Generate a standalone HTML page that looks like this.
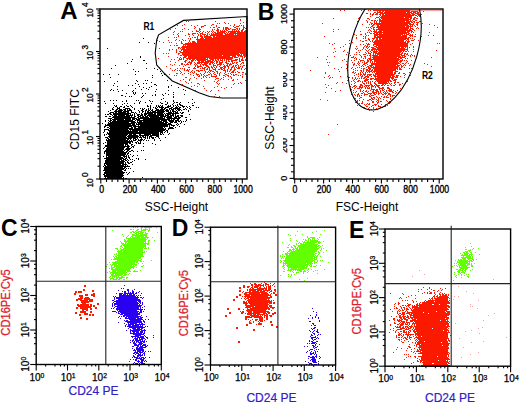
<!DOCTYPE html><html><head><meta charset="utf-8"><style>html,body{margin:0;padding:0;background:#fff}svg{display:block}text{font-family:"Liberation Sans",sans-serif}</style></head><body><svg width="520" height="403" viewBox="0 0 520 403">
<path d="M143 38.5h1M139 42.5h1M148 42.5h1M154 43.5h1M107 48.5h1M246 54.5h1M140 56.5h1M140 57.5h1M132 59.5h1M143 60.5h2M131 61.5h1M127 63.5h1M146 63.5h1M115 65.5h1M111 68.5h1M146 68.5h1M154 68.5h1M133 69.5h1M157 69.5h1M135 71.5h1M138 71.5h1M160 71.5h1M161 73.5h1M103 74.5h1M109 74.5h1M118 74.5h1M135 74.5h1M164 74.5h1M152 75.5h1M162 75.5h1M110 77.5h1M152 77.5h1M136 80.5h1M145 80.5h1M147 80.5h1M167 80.5h1M104 81.5h1M117 81.5h1M137 81.5h1M151 82.5h1M114 83.5h1M135 83.5h1M143 83.5h1M146 83.5h1M177 83.5h1M138 84.5h1M154 84.5h2M113 85.5h1M128 85.5h1M132 85.5h1M156 85.5h1M171 85.5h1M117 86.5h1M139 86.5h1M151 86.5h1M168 86.5h1M143 87.5h1M149 87.5h1M168 87.5h1M178 87.5h1M135 88.5h1M146 88.5h1M111 89.5h1M117 89.5h1M141 89.5h1M148 89.5h1M156 89.5h1M183 89.5h1M110 90.5h1M113 90.5h1M122 90.5h1M133 90.5h1M168 90.5h1M185 90.5h1M118 91.5h1M132 91.5h1M155 91.5h1M133 92.5h1M135 92.5h1M173 92.5h1M126 93.5h1M133 93.5h1M135 93.5h1M142 93.5h1M145 93.5h1M165 93.5h1M134 94.5h1M155 94.5h1M162 94.5h1M168 94.5h1M173 94.5h1M184 94.5h1M121 95.5h2M143 95.5h1M152 95.5h1M155 95.5h1M163 95.5h1M125 96.5h1M129 96.5h1M131 96.5h1M142 96.5h1M173 96.5h1M141 97.5h1M173 97.5h1M163 98.5h1M161 99.5h1M192 99.5h1M110 100.5h1M113 100.5h1M116 100.5h1M126 100.5h1M136 100.5h1M138 100.5h1M149 100.5h1M173 100.5h1M104 101.5h1M122 101.5h1M126 101.5h1M140 101.5h1M150 101.5h1M152 101.5h1M165 101.5h1M173 101.5h1M139 102.5h1M145 102.5h1M160 102.5h1M167 102.5h1M174 102.5h1M176 102.5h2M180 102.5h1M188 102.5h1M194 102.5h1M105 103.5h1M113 103.5h1M124 103.5h1M127 103.5h1M134 103.5h1M139 103.5h1M151 103.5h1M161 103.5h2M167 103.5h1M173 103.5h1M179 103.5h1M192 103.5h1M122 104.5h1M165 104.5h2M172 104.5h1M177 104.5h1M179 104.5h2M114 105.5h1M116 105.5h1M126 105.5h1M130 105.5h1M147 105.5h1M150 105.5h1M156 105.5h1M158 105.5h1M160 105.5h1M162 105.5h1M168 105.5h1M170 105.5h1M173 105.5h1M175 105.5h1M177 105.5h1M180 105.5h3M192 105.5h2M115 106.5h2M120 106.5h2M124 106.5h1M127 106.5h2M131 106.5h1M147 106.5h2M150 106.5h1M156 106.5h1M158 106.5h2M161 106.5h2M167 106.5h4M173 106.5h1M176 106.5h1M178 106.5h1M182 106.5h3M186 106.5h1M189 106.5h1M113 107.5h1M117 107.5h1M119 107.5h1M123 107.5h2M132 107.5h1M150 107.5h1M153 107.5h1M155 107.5h1M157 107.5h1M159 107.5h5M165 107.5h4M171 107.5h2M175 107.5h3M179 107.5h2M183 107.5h1M187 107.5h1M190 107.5h1M196 107.5h1M198 107.5h1M112 108.5h1M117 108.5h3M125 108.5h5M134 108.5h1M140 108.5h1M142 108.5h1M144 108.5h1M148 108.5h1M150 108.5h1M155 108.5h2M161 108.5h2M164 108.5h2M169 108.5h3M173 108.5h7M185 108.5h1M189 108.5h1M112 109.5h2M116 109.5h2M119 109.5h3M123 109.5h3M127 109.5h1M129 109.5h2M134 109.5h1M142 109.5h2M146 109.5h1M148 109.5h1M150 109.5h1M152 109.5h1M156 109.5h3M160 109.5h5M166 109.5h2M169 109.5h1M171 109.5h3M175 109.5h1M177 109.5h4M183 109.5h2M186 109.5h1M190 109.5h1M110 110.5h1M115 110.5h2M118 110.5h5M124 110.5h2M127 110.5h5M138 110.5h1M141 110.5h2M145 110.5h2M148 110.5h2M151 110.5h2M155 110.5h9M165 110.5h4M170 110.5h1M172 110.5h2M176 110.5h1M178 110.5h2M181 110.5h1M188 110.5h1M108 111.5h1M114 111.5h8M123 111.5h6M131 111.5h1M139 111.5h1M142 111.5h2M145 111.5h1M147 111.5h2M150 111.5h1M152 111.5h4M157 111.5h8M166 111.5h3M170 111.5h1M172 111.5h4M177 111.5h1M188 111.5h1M110 112.5h4M115 112.5h2M118 112.5h8M127 112.5h2M131 112.5h3M135 112.5h1M139 112.5h1M142 112.5h1M145 112.5h1M147 112.5h17M168 112.5h4M173 112.5h1M175 112.5h3M180 112.5h1M182 112.5h2M109 113.5h2M113 113.5h18M134 113.5h1M136 113.5h1M141 113.5h1M144 113.5h9M154 113.5h2M157 113.5h6M164 113.5h1M166 113.5h13M181 113.5h2M105 114.5h1M107 114.5h2M110 114.5h2M113 114.5h16M130 114.5h1M132 114.5h1M134 114.5h1M137 114.5h3M141 114.5h2M144 114.5h3M148 114.5h8M157 114.5h7M165 114.5h1M167 114.5h4M172 114.5h2M175 114.5h1M189 114.5h1M112 115.5h1M114 115.5h3M118 115.5h7M126 115.5h7M134 115.5h1M137 115.5h2M140 115.5h3M144 115.5h2M147 115.5h17M165 115.5h4M170 115.5h4M175 115.5h1M177 115.5h2M180 115.5h3M105 116.5h2M109 116.5h2M113 116.5h17M131 116.5h1M134 116.5h2M138 116.5h3M142 116.5h2M145 116.5h3M149 116.5h10M160 116.5h6M167 116.5h5M173 116.5h1M175 116.5h4M181 116.5h2M112 117.5h23M137 117.5h2M140 117.5h9M150 117.5h13M164 117.5h1M166 117.5h6M174 117.5h3M178 117.5h3M185 117.5h2M108 118.5h4M114 118.5h17M132 118.5h5M138 118.5h27M167 118.5h13M110 119.5h1M112 119.5h12M125 119.5h6M132 119.5h3M136 119.5h4M143 119.5h27M171 119.5h1M173 119.5h2M177 119.5h2M186 119.5h1M190 119.5h1M105 120.5h1M108 120.5h1M110 120.5h2M113 120.5h3M117 120.5h16M135 120.5h1M137 120.5h23M161 120.5h6M168 120.5h6M175 120.5h4M180 120.5h1M186 120.5h1M105 121.5h1M109 121.5h2M112 121.5h23M137 121.5h1M139 121.5h3M143 121.5h19M163 121.5h4M169 121.5h5M175 121.5h2M178 121.5h2M181 121.5h1M183 121.5h1M185 121.5h1M108 122.5h1M110 122.5h19M131 122.5h5M137 122.5h27M165 122.5h3M170 122.5h3M174 122.5h3M181 122.5h1M102 123.5h1M108 123.5h27M136 123.5h1M138 123.5h29M168 123.5h3M177 123.5h1M180 123.5h1M105 124.5h1M107 124.5h24M132 124.5h3M136 124.5h36M176 124.5h1M178 124.5h1M184 124.5h1M105 125.5h31M138 125.5h1M140 125.5h28M169 125.5h1M171 125.5h4M177 125.5h1M104 126.5h2M109 126.5h23M133 126.5h35M169 126.5h1M173 126.5h1M179 126.5h1M104 127.5h1M107 127.5h2M110 127.5h19M131 127.5h2M134 127.5h2M138 127.5h25M164 127.5h1M169 127.5h4M175 127.5h1M109 128.5h24M134 128.5h30M165 128.5h1M168 128.5h6M104 129.5h5M110 129.5h18M129 129.5h37M168 129.5h1M104 130.5h1M108 130.5h21M130 130.5h1M132 130.5h33M166 130.5h2M104 131.5h1M109 131.5h29M139 131.5h24M165 131.5h1M167 131.5h1M103 132.5h1M107 132.5h1M109 132.5h50M160 132.5h3M164 132.5h1M167 132.5h1M107 133.5h52M160 133.5h1M162 133.5h1M169 133.5h1M104 134.5h1M106 134.5h1M108 134.5h20M129 134.5h3M133 134.5h3M139 134.5h2M144 134.5h7M152 134.5h7M160 134.5h2M163 134.5h1M168 134.5h1M104 135.5h1M109 135.5h18M128 135.5h10M139 135.5h10M150 135.5h9M108 136.5h18M127 136.5h12M140 136.5h1M142 136.5h2M145 136.5h1M147 136.5h1M149 136.5h3M156 136.5h3M105 137.5h3M109 137.5h18M128 137.5h10M139 137.5h3M143 137.5h3M147 137.5h1M149 137.5h1M151 137.5h3M155 137.5h1M158 137.5h1M165 137.5h1M107 138.5h2M110 138.5h22M133 138.5h3M137 138.5h1M141 138.5h1M145 138.5h1M147 138.5h1M149 138.5h1M152 138.5h2M159 138.5h1M106 139.5h1M108 139.5h18M127 139.5h2M130 139.5h1M133 139.5h1M135 139.5h2M138 139.5h1M140 139.5h3M144 139.5h1M154 139.5h1M106 140.5h22M129 140.5h1M131 140.5h1M133 140.5h3M138 140.5h4M143 140.5h1M146 140.5h1M148 140.5h1M154 140.5h1M160 140.5h1M107 141.5h26M137 141.5h1M140 141.5h1M105 142.5h1M107 142.5h24M132 142.5h1M135 142.5h2M138 142.5h1M140 142.5h1M103 143.5h1M107 143.5h21M129 143.5h2M136 143.5h1M138 143.5h3M143 143.5h1M152 143.5h1M107 144.5h17M125 144.5h3M131 144.5h2M155 144.5h1M105 145.5h19M125 145.5h1M127 145.5h2M131 145.5h1M134 145.5h1M105 146.5h25M132 146.5h2M143 146.5h1M104 147.5h1M107 147.5h18M127 147.5h2M131 147.5h1M133 147.5h1M103 148.5h1M106 148.5h18M126 148.5h5M106 149.5h18M125 149.5h5M105 150.5h18M124 150.5h1M127 150.5h2M131 150.5h2M141 150.5h1M143 150.5h1M104 151.5h20M126 151.5h2M129 151.5h2M133 151.5h1M137 151.5h1M104 152.5h1M106 152.5h21M128 152.5h1M104 153.5h1M106 153.5h20M127 153.5h2M106 154.5h20M127 154.5h1M130 154.5h1M106 155.5h19M126 155.5h1M128 155.5h1M133 155.5h1M137 155.5h1M103 156.5h1M106 156.5h1M108 156.5h13M123 156.5h4M128 156.5h1M132 156.5h1M106 157.5h17M124 157.5h1M126 157.5h1M128 157.5h2M104 158.5h20M125 158.5h2M129 158.5h1M136 158.5h1M138 158.5h1M106 159.5h16M123 159.5h3M127 159.5h1M130 159.5h1M132 159.5h1M138 159.5h1M145 159.5h1M105 160.5h15M121 160.5h3M125 160.5h2M128 160.5h1M134 160.5h1M105 161.5h20M127 161.5h1M132 161.5h1M105 162.5h19M125 162.5h1M127 162.5h2M130 162.5h2M104 163.5h20M125 163.5h1M128 163.5h2M104 164.5h1M106 164.5h15M122 164.5h5M132 164.5h1M104 165.5h2M107 165.5h17M125 165.5h1M127 165.5h1M103 166.5h1M105 166.5h25M104 167.5h19M124 167.5h2M104 168.5h21M126 168.5h1M128 168.5h1M130 168.5h1M104 169.5h20M125 169.5h1M103 170.5h19M124 170.5h2M105 171.5h18M133 171.5h1M104 172.5h21M126 172.5h1M129 172.5h1M104 173.5h20M128 173.5h1M103 174.5h2M106 174.5h17M127 174.5h1M104 175.5h20M104 176.5h19M105 177.5h1M107 177.5h15M123 177.5h1M142 177.5h1M104 178.5h20M125 178.5h2" stroke="#000" stroke-width="1" fill="none"/><path d="M340 10.5h1M344 10.5h1M361 10.5h1M368 10.5h1M370 10.5h1M373 10.5h49M440 10.5h1M377 11.5h1M379 11.5h2M382 11.5h2M385 11.5h25M411 11.5h7M423 11.5h1M374 12.5h2M377 12.5h6M384 12.5h22M407 12.5h5M413 12.5h3M417 12.5h2M366 13.5h2M370 13.5h1M373 13.5h1M376 13.5h2M380 13.5h30M411 13.5h3M415 13.5h4M370 14.5h1M372 14.5h2M375 14.5h3M379 14.5h2M382 14.5h2M385 14.5h26M412 14.5h3M417 14.5h3M421 14.5h1M372 15.5h1M380 15.5h1M382 15.5h32M415 15.5h2M418 15.5h3M370 16.5h1M379 16.5h1M381 16.5h31M417 16.5h1M419 16.5h1M359 17.5h1M376 17.5h3M380 17.5h24M405 17.5h7M414 17.5h2M333 18.5h1M358 18.5h1M367 18.5h2M375 18.5h1M379 18.5h1M381 18.5h28M410 18.5h2M413 18.5h2M416 18.5h2M240 19.5h1M369 19.5h1M379 19.5h2M382 19.5h29M413 19.5h2M240 20.5h1M366 20.5h1M371 20.5h2M374 20.5h2M377 20.5h1M379 20.5h30M410 20.5h1M412 20.5h1M415 20.5h2M186 21.5h1M188 21.5h1M215 21.5h1M357 21.5h1M367 21.5h1M374 21.5h1M376 21.5h1M379 21.5h26M406 21.5h6M413 21.5h2M419 21.5h2M224 22.5h1M243 22.5h1M246 22.5h1M367 22.5h1M370 22.5h1M374 22.5h1M376 22.5h1M379 22.5h1M381 22.5h29M411 22.5h2M414 22.5h1M416 22.5h3M217 23.5h1M219 23.5h1M225 23.5h1M228 23.5h1M240 23.5h1M322 23.5h1M371 23.5h2M374 23.5h37M413 23.5h1M417 23.5h1M422 23.5h1M184 24.5h1M212 24.5h2M234 24.5h1M362 24.5h1M369 24.5h1M371 24.5h1M373 24.5h2M376 24.5h32M409 24.5h5M416 24.5h2M429 24.5h1M177 25.5h1M182 25.5h1M191 25.5h1M197 25.5h1M204 25.5h2M211 25.5h1M216 25.5h1M230 25.5h1M234 25.5h1M239 25.5h1M241 25.5h1M243 25.5h1M372 25.5h2M377 25.5h2M380 25.5h29M410 25.5h1M412 25.5h1M414 25.5h1M417 25.5h1M434 25.5h1M194 26.5h1M201 26.5h3M216 26.5h1M233 26.5h1M236 26.5h3M243 26.5h1M371 26.5h2M377 26.5h28M406 26.5h7M415 26.5h1M195 27.5h1M201 27.5h1M210 27.5h1M213 27.5h2M218 27.5h2M223 27.5h1M225 27.5h3M234 27.5h2M243 27.5h2M366 27.5h1M368 27.5h1M370 27.5h1M373 27.5h2M376 27.5h33M410 27.5h1M417 27.5h1M437 27.5h1M175 28.5h1M184 28.5h1M194 28.5h1M199 28.5h1M217 28.5h1M223 28.5h1M225 28.5h4M230 28.5h1M236 28.5h2M239 28.5h1M243 28.5h1M245 28.5h2M371 28.5h1M373 28.5h1M378 28.5h31M410 28.5h3M416 28.5h1M418 28.5h1M170 29.5h1M182 29.5h1M188 29.5h1M199 29.5h2M212 29.5h1M214 29.5h1M217 29.5h2M223 29.5h1M225 29.5h2M228 29.5h2M232 29.5h4M237 29.5h1M239 29.5h1M242 29.5h2M333 29.5h1M338 29.5h1M369 29.5h1M373 29.5h2M376 29.5h32M409 29.5h2M412 29.5h2M196 30.5h1M199 30.5h1M212 30.5h1M216 30.5h3M220 30.5h1M222 30.5h1M224 30.5h1M226 30.5h2M232 30.5h1M234 30.5h1M236 30.5h1M238 30.5h1M241 30.5h2M245 30.5h2M368 30.5h1M370 30.5h1M374 30.5h1M376 30.5h1M379 30.5h33M414 30.5h1M174 31.5h1M180 31.5h1M182 31.5h1M192 31.5h1M196 31.5h3M200 31.5h1M203 31.5h1M207 31.5h1M209 31.5h1M211 31.5h1M213 31.5h1M217 31.5h2M220 31.5h6M228 31.5h12M241 31.5h2M244 31.5h3M333 31.5h1M360 31.5h1M371 31.5h1M373 31.5h4M378 31.5h4M383 31.5h23M407 31.5h3M411 31.5h2M173 32.5h1M199 32.5h1M202 32.5h1M205 32.5h1M208 32.5h1M212 32.5h1M214 32.5h2M217 32.5h8M226 32.5h1M228 32.5h1M230 32.5h6M237 32.5h10M367 32.5h1M369 32.5h1M374 32.5h35M411 32.5h1M413 32.5h1M429 32.5h1M178 33.5h1M188 33.5h1M192 33.5h4M197 33.5h1M200 33.5h3M207 33.5h1M211 33.5h1M213 33.5h1M215 33.5h8M224 33.5h2M227 33.5h1M229 33.5h18M365 33.5h1M370 33.5h2M373 33.5h2M376 33.5h2M379 33.5h3M383 33.5h24M408 33.5h2M173 34.5h1M177 34.5h1M188 34.5h2M192 34.5h1M198 34.5h1M200 34.5h1M202 34.5h4M207 34.5h1M209 34.5h1M211 34.5h12M225 34.5h9M235 34.5h1M237 34.5h10M354 34.5h1M360 34.5h2M365 34.5h1M374 34.5h29M404 34.5h1M406 34.5h3M410 34.5h1M412 34.5h1M415 34.5h1M178 35.5h1M185 35.5h1M193 35.5h1M198 35.5h1M200 35.5h2M204 35.5h1M206 35.5h2M210 35.5h37M356 35.5h1M366 35.5h1M368 35.5h1M374 35.5h4M379 35.5h22M402 35.5h5M409 35.5h4M428 35.5h1M433 35.5h1M178 36.5h1M189 36.5h1M197 36.5h1M200 36.5h3M204 36.5h7M213 36.5h2M216 36.5h31M324 36.5h1M363 36.5h1M365 36.5h1M374 36.5h2M377 36.5h30M410 36.5h1M412 36.5h1M414 36.5h2M421 36.5h1M168 37.5h1M174 37.5h1M176 37.5h1M192 37.5h1M194 37.5h2M197 37.5h1M201 37.5h2M204 37.5h8M213 37.5h34M356 37.5h1M365 37.5h1M374 37.5h33M408 37.5h2M188 38.5h1M190 38.5h1M197 38.5h1M200 38.5h4M205 38.5h42M356 38.5h1M363 38.5h1M365 38.5h1M368 38.5h1M372 38.5h3M376 38.5h2M379 38.5h2M382 38.5h27M410 38.5h1M412 38.5h1M176 39.5h1M182 39.5h1M190 39.5h1M196 39.5h51M368 39.5h2M373 39.5h1M376 39.5h2M379 39.5h27M407 39.5h2M414 39.5h1M157 40.5h1M168 40.5h1M175 40.5h1M179 40.5h1M183 40.5h1M185 40.5h1M189 40.5h1M197 40.5h50M349 40.5h1M360 40.5h1M365 40.5h2M369 40.5h1M372 40.5h1M375 40.5h29M406 40.5h1M408 40.5h1M411 40.5h3M418 40.5h1M159 41.5h1M181 41.5h1M189 41.5h1M192 41.5h3M197 41.5h50M362 41.5h2M370 41.5h1M372 41.5h1M374 41.5h30M405 41.5h1M407 41.5h3M163 42.5h1M169 42.5h1M171 42.5h1M181 42.5h1M188 42.5h1M190 42.5h1M192 42.5h4M197 42.5h50M352 42.5h1M373 42.5h33M407 42.5h2M176 43.5h1M181 43.5h2M185 43.5h62M329 43.5h1M334 43.5h1M349 43.5h1M366 43.5h1M368 43.5h1M374 43.5h34M412 43.5h1M437 43.5h1M439 43.5h1M183 44.5h64M332 44.5h1M345 44.5h1M360 44.5h1M363 44.5h1M367 44.5h3M373 44.5h35M410 44.5h1M170 45.5h1M174 45.5h1M176 45.5h2M183 45.5h1M185 45.5h1M187 45.5h60M365 45.5h1M367 45.5h1M373 45.5h1M376 45.5h32M182 46.5h65M343 46.5h1M356 46.5h1M364 46.5h1M366 46.5h2M369 46.5h1M374 46.5h3M378 46.5h30M413 46.5h1M178 47.5h2M181 47.5h66M340 47.5h1M363 47.5h1M366 47.5h1M368 47.5h1M371 47.5h3M376 47.5h24M401 47.5h3M405 47.5h1M407 47.5h1M409 47.5h1M413 47.5h1M159 48.5h1M178 48.5h1M180 48.5h1M182 48.5h3M186 48.5h61M334 48.5h1M349 48.5h1M355 48.5h1M357 48.5h1M363 48.5h1M367 48.5h1M372 48.5h4M377 48.5h28M407 48.5h1M169 49.5h1M172 49.5h1M176 49.5h1M181 49.5h66M356 49.5h1M362 49.5h1M365 49.5h1M369 49.5h1M371 49.5h37M413 49.5h1M169 50.5h1M176 50.5h1M181 50.5h1M183 50.5h64M344 50.5h1M358 50.5h1M360 50.5h1M366 50.5h1M368 50.5h1M371 50.5h2M374 50.5h1M376 50.5h1M378 50.5h27M407 50.5h1M436 50.5h1M176 51.5h1M179 51.5h2M183 51.5h64M335 51.5h1M343 51.5h1M367 51.5h1M370 51.5h1M373 51.5h5M379 51.5h23M403 51.5h1M405 51.5h2M408 51.5h1M413 51.5h1M176 52.5h1M180 52.5h67M333 52.5h1M347 52.5h1M356 52.5h1M359 52.5h1M365 52.5h1M368 52.5h1M371 52.5h1M373 52.5h4M378 52.5h23M402 52.5h1M163 53.5h1M166 53.5h1M168 53.5h1M178 53.5h2M182 53.5h57M240 53.5h7M349 53.5h1M366 53.5h1M368 53.5h3M373 53.5h1M375 53.5h25M401 53.5h2M404 53.5h2M407 53.5h1M178 54.5h1M182 54.5h58M241 54.5h1M243 54.5h4M346 54.5h1M354 54.5h1M356 54.5h1M359 54.5h1M363 54.5h3M370 54.5h1M373 54.5h1M375 54.5h1M377 54.5h25M404 54.5h1M406 54.5h2M411 54.5h1M180 55.5h2M183 55.5h39M223 55.5h13M237 55.5h5M243 55.5h4M350 55.5h1M360 55.5h1M367 55.5h1M369 55.5h2M372 55.5h6M379 55.5h21M401 55.5h4M408 55.5h1M410 55.5h1M412 55.5h1M414 55.5h1M168 56.5h1M184 56.5h3M188 56.5h42M232 56.5h4M238 56.5h1M240 56.5h3M244 56.5h2M327 56.5h1M334 56.5h1M353 56.5h1M361 56.5h1M364 56.5h2M370 56.5h1M373 56.5h28M402 56.5h1M404 56.5h2M410 56.5h1M414 56.5h1M177 57.5h1M180 57.5h1M183 57.5h3M188 57.5h45M234 57.5h4M242 57.5h1M244 57.5h1M246 57.5h1M317 57.5h1M351 57.5h3M355 57.5h1M361 57.5h1M365 57.5h1M370 57.5h1M372 57.5h25M398 57.5h7M431 57.5h1M158 58.5h1M179 58.5h1M181 58.5h1M183 58.5h1M186 58.5h20M207 58.5h1M209 58.5h24M239 58.5h1M242 58.5h1M246 58.5h1M354 58.5h1M356 58.5h1M363 58.5h1M365 58.5h1M368 58.5h3M373 58.5h26M400 58.5h2M405 58.5h1M407 58.5h1M171 59.5h1M174 59.5h1M179 59.5h3M183 59.5h1M187 59.5h1M189 59.5h2M192 59.5h3M196 59.5h12M210 59.5h4M215 59.5h1M217 59.5h2M220 59.5h1M222 59.5h1M224 59.5h1M226 59.5h6M235 59.5h3M239 59.5h1M241 59.5h2M245 59.5h1M326 59.5h1M344 59.5h1M356 59.5h1M359 59.5h1M367 59.5h1M369 59.5h31M402 59.5h1M178 60.5h1M185 60.5h2M191 60.5h3M195 60.5h1M197 60.5h9M207 60.5h4M212 60.5h2M215 60.5h2M218 60.5h1M220 60.5h3M224 60.5h1M226 60.5h1M228 60.5h1M231 60.5h6M239 60.5h1M241 60.5h3M245 60.5h1M342 60.5h1M351 60.5h1M354 60.5h1M360 60.5h4M367 60.5h2M370 60.5h2M374 60.5h25M400 60.5h3M404 60.5h1M406 60.5h1M411 60.5h1M170 61.5h1M184 61.5h2M189 61.5h1M191 61.5h2M198 61.5h2M201 61.5h3M205 61.5h8M214 61.5h1M216 61.5h2M219 61.5h1M222 61.5h1M226 61.5h1M228 61.5h2M231 61.5h2M239 61.5h2M346 61.5h1M358 61.5h1M360 61.5h1M364 61.5h1M367 61.5h2M370 61.5h1M372 61.5h1M374 61.5h24M399 61.5h3M407 61.5h1M175 62.5h1M185 62.5h1M188 62.5h4M194 62.5h1M197 62.5h12M210 62.5h4M216 62.5h2M219 62.5h4M225 62.5h2M232 62.5h1M234 62.5h1M236 62.5h2M242 62.5h2M327 62.5h1M329 62.5h1M352 62.5h1M358 62.5h1M362 62.5h1M364 62.5h1M366 62.5h2M370 62.5h1M372 62.5h1M374 62.5h1M376 62.5h23M400 62.5h1M406 62.5h1M181 63.5h2M187 63.5h1M190 63.5h2M195 63.5h1M197 63.5h3M201 63.5h1M204 63.5h4M209 63.5h2M212 63.5h1M214 63.5h1M216 63.5h1M219 63.5h3M226 63.5h3M230 63.5h1M232 63.5h2M236 63.5h1M241 63.5h1M243 63.5h1M354 63.5h1M357 63.5h1M359 63.5h1M364 63.5h3M371 63.5h29M402 63.5h2M405 63.5h1M408 63.5h1M424 63.5h1M170 64.5h1M174 64.5h1M181 64.5h2M184 64.5h1M186 64.5h3M190 64.5h1M194 64.5h1M196 64.5h1M200 64.5h1M202 64.5h5M209 64.5h2M213 64.5h1M217 64.5h5M223 64.5h1M227 64.5h1M229 64.5h3M237 64.5h1M240 64.5h1M346 64.5h1M353 64.5h2M358 64.5h1M363 64.5h2M367 64.5h1M371 64.5h27M400 64.5h1M404 64.5h1M410 64.5h1M427 64.5h1M157 65.5h1M172 65.5h1M179 65.5h1M185 65.5h1M195 65.5h1M197 65.5h1M200 65.5h1M203 65.5h1M205 65.5h3M213 65.5h3M217 65.5h1M220 65.5h1M224 65.5h1M226 65.5h2M229 65.5h1M233 65.5h1M235 65.5h2M238 65.5h1M243 65.5h2M246 65.5h1M328 65.5h1M347 65.5h1M353 65.5h1M356 65.5h1M359 65.5h1M362 65.5h1M365 65.5h1M369 65.5h4M375 65.5h21M397 65.5h3M401 65.5h1M403 65.5h1M405 65.5h1M409 65.5h1M166 66.5h1M183 66.5h1M195 66.5h1M197 66.5h5M206 66.5h3M211 66.5h1M213 66.5h1M216 66.5h1M219 66.5h1M223 66.5h3M227 66.5h2M232 66.5h2M235 66.5h1M238 66.5h1M240 66.5h1M242 66.5h1M347 66.5h1M361 66.5h1M363 66.5h1M367 66.5h2M370 66.5h2M373 66.5h1M375 66.5h24M401 66.5h2M431 66.5h1M159 67.5h1M188 67.5h2M194 67.5h1M197 67.5h2M202 67.5h1M204 67.5h2M208 67.5h2M211 67.5h2M214 67.5h1M216 67.5h1M220 67.5h3M224 67.5h2M228 67.5h1M231 67.5h2M234 67.5h1M236 67.5h1M238 67.5h2M242 67.5h1M341 67.5h1M347 67.5h1M352 67.5h1M357 67.5h1M359 67.5h1M366 67.5h1M368 67.5h2M371 67.5h27M399 67.5h1M401 67.5h1M404 67.5h1M170 68.5h1M177 68.5h1M180 68.5h1M182 68.5h1M184 68.5h1M193 68.5h3M200 68.5h1M202 68.5h3M207 68.5h1M209 68.5h1M212 68.5h1M215 68.5h1M220 68.5h2M223 68.5h2M228 68.5h1M231 68.5h1M234 68.5h1M237 68.5h3M241 68.5h1M245 68.5h1M334 68.5h1M346 68.5h1M351 68.5h1M355 68.5h1M361 68.5h1M363 68.5h2M368 68.5h3M373 68.5h25M399 68.5h2M409 68.5h1M411 68.5h1M175 69.5h1M184 69.5h1M187 69.5h1M189 69.5h1M204 69.5h1M206 69.5h2M209 69.5h1M213 69.5h3M218 69.5h2M221 69.5h2M224 69.5h1M227 69.5h1M230 69.5h2M234 69.5h2M241 69.5h1M244 69.5h1M338 69.5h1M353 69.5h1M363 69.5h1M366 69.5h2M369 69.5h2M372 69.5h1M374 69.5h22M397 69.5h1M399 69.5h3M172 70.5h1M174 70.5h1M177 70.5h1M179 70.5h1M184 70.5h1M186 70.5h3M192 70.5h1M196 70.5h3M200 70.5h3M204 70.5h1M209 70.5h3M215 70.5h1M223 70.5h3M227 70.5h1M230 70.5h1M233 70.5h2M310 70.5h1M347 70.5h1M355 70.5h1M357 70.5h1M360 70.5h2M363 70.5h1M366 70.5h4M371 70.5h2M374 70.5h22M180 71.5h1M188 71.5h1M191 71.5h1M194 71.5h1M198 71.5h2M205 71.5h1M208 71.5h1M210 71.5h1M212 71.5h2M216 71.5h2M225 71.5h1M227 71.5h1M229 71.5h1M232 71.5h2M237 71.5h1M339 71.5h1M353 71.5h1M361 71.5h1M363 71.5h1M366 71.5h1M368 71.5h4M373 71.5h20M395 71.5h3M181 72.5h1M190 72.5h1M192 72.5h1M194 72.5h1M205 72.5h1M207 72.5h1M209 72.5h1M214 72.5h1M217 72.5h1M220 72.5h1M225 72.5h1M231 72.5h3M235 72.5h1M238 72.5h2M242 72.5h2M325 72.5h1M352 72.5h2M355 72.5h1M360 72.5h1M362 72.5h1M365 72.5h1M367 72.5h1M369 72.5h1M372 72.5h1M374 72.5h1M376 72.5h17M394 72.5h2M399 72.5h1M409 72.5h1M176 73.5h2M180 73.5h1M184 73.5h1M188 73.5h1M193 73.5h1M196 73.5h1M200 73.5h1M204 73.5h1M210 73.5h1M213 73.5h1M217 73.5h1M219 73.5h1M224 73.5h1M228 73.5h1M230 73.5h1M245 73.5h1M325 73.5h1M354 73.5h1M358 73.5h1M360 73.5h1M363 73.5h1M365 73.5h1M375 73.5h18M394 73.5h2M398 73.5h2M403 73.5h2M169 74.5h1M182 74.5h1M190 74.5h1M196 74.5h3M201 74.5h1M203 74.5h1M208 74.5h2M211 74.5h1M214 74.5h2M219 74.5h1M225 74.5h2M231 74.5h1M233 74.5h1M235 74.5h2M242 74.5h1M245 74.5h1M356 74.5h1M358 74.5h1M360 74.5h2M363 74.5h3M367 74.5h5M373 74.5h1M375 74.5h20M405 74.5h1M174 75.5h1M176 75.5h1M193 75.5h1M197 75.5h1M199 75.5h1M201 75.5h1M204 75.5h1M206 75.5h2M211 75.5h1M216 75.5h1M219 75.5h1M223 75.5h2M227 75.5h2M233 75.5h2M238 75.5h1M240 75.5h1M329 75.5h1M354 75.5h1M360 75.5h1M362 75.5h1M364 75.5h1M367 75.5h1M369 75.5h2M373 75.5h3M377 75.5h17M396 75.5h3M404 75.5h1M410 75.5h1M198 76.5h2M203 76.5h1M205 76.5h1M211 76.5h6M225 76.5h1M228 76.5h1M230 76.5h1M242 76.5h1M328 76.5h1M340 76.5h1M347 76.5h1M358 76.5h1M361 76.5h2M365 76.5h4M371 76.5h1M374 76.5h17M392 76.5h3M396 76.5h2M400 76.5h1M185 77.5h2M194 77.5h1M203 77.5h1M206 77.5h1M209 77.5h1M215 77.5h1M223 77.5h1M231 77.5h1M242 77.5h1M324 77.5h1M330 77.5h1M332 77.5h1M348 77.5h2M352 77.5h1M355 77.5h1M361 77.5h1M364 77.5h2M367 77.5h2M375 77.5h1M377 77.5h17M395 77.5h3M404 77.5h1M190 78.5h1M196 78.5h1M201 78.5h1M216 78.5h3M221 78.5h1M231 78.5h1M329 78.5h1M352 78.5h1M355 78.5h1M357 78.5h1M359 78.5h1M361 78.5h1M363 78.5h2M366 78.5h1M370 78.5h4M375 78.5h15M391 78.5h3M183 79.5h1M189 79.5h1M215 79.5h1M220 79.5h1M223 79.5h1M228 79.5h1M233 79.5h1M237 79.5h1M354 79.5h1M356 79.5h1M365 79.5h4M370 79.5h2M374 79.5h16M392 79.5h1M394 79.5h3M180 80.5h1M189 80.5h1M204 80.5h1M218 80.5h1M232 80.5h2M245 80.5h1M347 80.5h1M353 80.5h1M358 80.5h2M364 80.5h4M376 80.5h15M393 80.5h3M185 81.5h1M214 81.5h1M217 81.5h1M351 81.5h1M354 81.5h1M357 81.5h2M360 81.5h1M362 81.5h1M364 81.5h2M368 81.5h1M370 81.5h1M372 81.5h1M375 81.5h1M377 81.5h12M390 81.5h2M395 81.5h1M407 81.5h1M186 82.5h1M191 82.5h1M216 82.5h1M240 82.5h1M337 82.5h1M342 82.5h1M355 82.5h1M362 82.5h1M366 82.5h1M368 82.5h1M370 82.5h1M374 82.5h1M378 82.5h9M388 82.5h1M394 82.5h2M397 82.5h2M188 83.5h1M197 83.5h2M217 83.5h1M219 83.5h1M234 83.5h1M238 83.5h1M241 83.5h1M336 83.5h1M346 83.5h1M354 83.5h1M363 83.5h2M366 83.5h1M368 83.5h1M370 83.5h1M374 83.5h2M378 83.5h10M389 83.5h1M391 83.5h1M394 83.5h1M402 83.5h1M182 84.5h1M199 84.5h1M218 84.5h1M233 84.5h1M325 84.5h1M351 84.5h1M360 84.5h2M364 84.5h1M370 84.5h2M375 84.5h2M382 84.5h2M385 84.5h1M390 84.5h1M395 84.5h1M399 84.5h2M194 85.5h1M328 85.5h1M354 85.5h2M360 85.5h3M365 85.5h5M371 85.5h2M374 85.5h1M376 85.5h4M381 85.5h2M384 85.5h1M387 85.5h2M391 85.5h1M393 85.5h2M399 85.5h1M191 86.5h1M197 86.5h1M203 86.5h1M217 86.5h1M350 86.5h1M353 86.5h2M356 86.5h1M359 86.5h2M362 86.5h1M364 86.5h1M366 86.5h1M368 86.5h1M371 86.5h3M375 86.5h1M377 86.5h2M214 87.5h1M221 87.5h1M226 87.5h1M231 87.5h1M326 87.5h1M352 87.5h1M355 87.5h1M359 87.5h4M365 87.5h1M367 87.5h1M369 87.5h1M371 87.5h1M375 87.5h1M378 87.5h2M382 87.5h2M387 87.5h2M204 88.5h1M224 88.5h1M331 88.5h1M350 88.5h1M354 88.5h1M357 88.5h3M361 88.5h1M365 88.5h1M367 88.5h3M371 88.5h1M379 88.5h5M387 88.5h3M400 88.5h1M351 89.5h1M360 89.5h1M371 89.5h4M376 89.5h2M379 89.5h1M382 89.5h1M384 89.5h1M389 89.5h3M195 90.5h1M206 90.5h1M211 90.5h1M218 90.5h1M340 90.5h1M350 90.5h1M353 90.5h1M360 90.5h1M363 90.5h1M366 90.5h1M370 90.5h1M373 90.5h1M375 90.5h3M380 90.5h1M382 90.5h2M386 90.5h1M388 90.5h4M393 90.5h1M397 90.5h1M210 91.5h1M335 91.5h1M356 91.5h1M360 91.5h1M362 91.5h1M365 91.5h2M368 91.5h1M372 91.5h2M376 91.5h3M380 91.5h1M384 91.5h1M386 91.5h1M389 91.5h4M395 91.5h1M325 92.5h1M353 92.5h1M355 92.5h1M363 92.5h1M367 92.5h1M372 92.5h5M378 92.5h1M380 92.5h1M383 92.5h1M385 92.5h1M387 92.5h1M392 92.5h2M396 92.5h1M358 93.5h1M361 93.5h2M364 93.5h1M368 93.5h4M373 93.5h2M376 93.5h1M378 93.5h2M381 93.5h1M384 93.5h3M388 93.5h2M395 93.5h1M215 94.5h1M351 94.5h1M354 94.5h1M357 94.5h2M364 94.5h4M370 94.5h1M374 94.5h2M378 94.5h1M382 94.5h2M385 94.5h1M388 94.5h3M355 95.5h1M357 95.5h1M359 95.5h1M361 95.5h1M364 95.5h1M369 95.5h1M371 95.5h3M387 95.5h1M390 95.5h1M392 95.5h3M214 96.5h1M219 96.5h1M357 96.5h1M359 96.5h1M369 96.5h2M376 96.5h1M381 96.5h1M384 96.5h1M386 96.5h1M390 96.5h1M392 96.5h1M353 97.5h1M360 97.5h2M371 97.5h1M373 97.5h2M377 97.5h1M379 97.5h1M383 97.5h2M386 97.5h3M355 98.5h1M359 98.5h1M371 98.5h2M374 98.5h1M378 98.5h1M380 98.5h1M390 98.5h1M320 99.5h1M363 99.5h1M369 99.5h2M372 99.5h2M376 99.5h1M378 99.5h1M383 99.5h1M390 99.5h1M327 100.5h1M357 100.5h1M359 100.5h1M367 100.5h2M371 100.5h1M377 100.5h2M386 100.5h1M357 101.5h1M362 101.5h1M372 101.5h2M376 101.5h1M378 101.5h1M380 101.5h2M387 101.5h1M389 101.5h1M355 102.5h2M362 102.5h1M372 102.5h2M377 102.5h2M388 102.5h1M390 102.5h1M359 103.5h1M361 103.5h2M367 103.5h1M369 103.5h1M377 103.5h1M389 103.5h1M364 104.5h1M366 104.5h1M368 104.5h2M374 104.5h3M381 104.5h1M385 104.5h1M357 105.5h1M359 105.5h1M365 105.5h1M372 105.5h2M375 105.5h1M378 105.5h1M387 105.5h1M366 106.5h2M371 106.5h1M378 106.5h3M384 106.5h2M363 107.5h2M369 107.5h1M373 107.5h1M380 107.5h1M382 107.5h1M365 108.5h1M368 108.5h1M373 108.5h1M376 108.5h1M371 109.5h1M369 110.5h1M373 111.5h1M337 124.5h1M328 134.5h1M264 282.5h1M250 283.5h1M254 283.5h2M261 283.5h1M265 283.5h2M270 283.5h1M274 283.5h1M251 284.5h2M254 284.5h3M258 284.5h3M263 284.5h1M265 284.5h4M273 284.5h1M84 285.5h2M243 285.5h2M251 285.5h2M255 285.5h9M265 285.5h1M268 285.5h1M270 285.5h1M272 285.5h1M84 286.5h2M243 286.5h2M247 286.5h3M252 286.5h1M254 286.5h5M260 286.5h1M263 286.5h1M266 286.5h1M268 286.5h3M274 286.5h1M239 287.5h2M243 287.5h2M247 287.5h2M251 287.5h2M254 287.5h4M259 287.5h2M264 287.5h1M266 287.5h1M268 287.5h3M423 287.5h1M429 287.5h1M239 288.5h2M250 288.5h1M252 288.5h2M257 288.5h10M268 288.5h3M429 288.5h1M440 288.5h1M445 288.5h1M83 289.5h2M247 289.5h1M249 289.5h15M265 289.5h2M268 289.5h3M274 289.5h2M418 289.5h1M421 289.5h1M427 289.5h1M431 289.5h1M442 289.5h1M83 290.5h2M92 290.5h2M239 290.5h2M247 290.5h1M249 290.5h7M257 290.5h5M263 290.5h7M271 290.5h1M274 290.5h2M433 290.5h2M438 290.5h1M441 290.5h1M75 291.5h2M78 291.5h4M92 291.5h2M239 291.5h2M243 291.5h1M249 291.5h2M252 291.5h7M260 291.5h5M267 291.5h1M270 291.5h2M275 291.5h1M418 291.5h1M429 291.5h1M437 291.5h1M75 292.5h2M78 292.5h4M242 292.5h1M245 292.5h22M269 292.5h1M273 292.5h2M424 292.5h1M427 292.5h1M430 292.5h2M434 292.5h1M440 292.5h1M74 293.5h2M93 293.5h2M244 293.5h3M249 293.5h11M261 293.5h7M271 293.5h1M273 293.5h2M390 293.5h1M402 293.5h1M422 293.5h1M427 293.5h1M429 293.5h3M434 293.5h1M439 293.5h1M442 293.5h1M444 293.5h1M74 294.5h2M85 294.5h3M91 294.5h4M239 294.5h2M244 294.5h25M270 294.5h1M275 294.5h2M403 294.5h1M435 294.5h1M439 294.5h2M442 294.5h2M445 294.5h2M448 294.5h1M79 295.5h4M85 295.5h3M91 295.5h4M239 295.5h2M245 295.5h5M251 295.5h20M275 295.5h2M411 295.5h1M415 295.5h1M434 295.5h1M437 295.5h1M440 295.5h1M442 295.5h5M448 295.5h1M79 296.5h4M93 296.5h2M236 296.5h2M242 296.5h1M244 296.5h24M270 296.5h2M408 296.5h1M433 296.5h2M436 296.5h2M439 296.5h9M80 297.5h3M85 297.5h4M236 297.5h2M245 297.5h1M247 297.5h25M400 297.5h1M406 297.5h1M432 297.5h1M434 297.5h1M437 297.5h12M78 298.5h5M84 298.5h6M241 298.5h1M244 298.5h1M246 298.5h3M250 298.5h20M399 298.5h1M401 298.5h1M415 298.5h1M429 298.5h1M431 298.5h2M434 298.5h14M449 298.5h1M76 299.5h6M84 299.5h9M233 299.5h2M245 299.5h1M248 299.5h19M268 299.5h1M430 299.5h1M432 299.5h1M435 299.5h13M76 300.5h2M80 300.5h8M89 300.5h4M233 300.5h2M247 300.5h23M271 300.5h1M273 300.5h1M402 300.5h1M405 300.5h1M407 300.5h1M412 300.5h1M425 300.5h1M428 300.5h20M449 300.5h1M81 301.5h12M243 301.5h2M246 301.5h1M248 301.5h24M413 301.5h1M416 301.5h1M424 301.5h1M426 301.5h8M435 301.5h14M81 302.5h8M243 302.5h4M248 302.5h24M273 302.5h2M398 302.5h1M413 302.5h1M420 302.5h1M422 302.5h28M82 303.5h4M97 303.5h2M243 303.5h5M249 303.5h19M269 303.5h3M273 303.5h2M395 303.5h1M398 303.5h2M407 303.5h1M417 303.5h1M419 303.5h1M422 303.5h28M77 304.5h2M80 304.5h9M90 304.5h2M97 304.5h2M245 304.5h2M250 304.5h19M394 304.5h1M398 304.5h1M408 304.5h3M416 304.5h2M419 304.5h13M434 304.5h5M440 304.5h7M77 305.5h12M90 305.5h2M93 305.5h2M245 305.5h23M269 305.5h3M402 305.5h2M405 305.5h1M407 305.5h3M412 305.5h1M414 305.5h1M416 305.5h33M78 306.5h14M93 306.5h2M246 306.5h8M255 306.5h13M269 306.5h3M394 306.5h1M400 306.5h1M406 306.5h1M408 306.5h1M412 306.5h6M419 306.5h31M76 307.5h2M80 307.5h11M95 307.5h2M245 307.5h6M252 307.5h17M270 307.5h5M396 307.5h1M401 307.5h1M403 307.5h2M409 307.5h1M412 307.5h35M448 307.5h2M76 308.5h2M80 308.5h8M90 308.5h2M95 308.5h2M227 308.5h2M238 308.5h2M247 308.5h1M250 308.5h20M272 308.5h2M394 308.5h1M396 308.5h2M401 308.5h1M404 308.5h1M406 308.5h2M410 308.5h1M412 308.5h1M414 308.5h34M82 309.5h6M90 309.5h2M227 309.5h2M238 309.5h2M243 309.5h1M247 309.5h20M268 309.5h2M390 309.5h1M399 309.5h1M402 309.5h1M404 309.5h1M406 309.5h3M411 309.5h1M413 309.5h36M82 310.5h2M86 310.5h2M246 310.5h20M271 310.5h1M398 310.5h1M400 310.5h1M402 310.5h2M406 310.5h1M411 310.5h36M80 311.5h6M90 311.5h2M240 311.5h1M242 311.5h2M247 311.5h5M253 311.5h16M392 311.5h1M397 311.5h1M399 311.5h1M405 311.5h1M407 311.5h1M412 311.5h24M437 311.5h8M446 311.5h4M75 312.5h2M80 312.5h6M90 312.5h2M229 312.5h2M241 312.5h3M248 312.5h4M253 312.5h13M267 312.5h3M274 312.5h2M397 312.5h1M402 312.5h3M407 312.5h16M424 312.5h22M447 312.5h3M75 313.5h2M84 313.5h4M229 313.5h2M241 313.5h2M245 313.5h1M247 313.5h13M263 313.5h4M268 313.5h2M272 313.5h4M397 313.5h1M399 313.5h2M402 313.5h3M406 313.5h4M411 313.5h17M429 313.5h21M79 314.5h2M84 314.5h4M89 314.5h2M92 314.5h2M247 314.5h5M253 314.5h3M257 314.5h8M266 314.5h2M272 314.5h2M398 314.5h1M401 314.5h4M409 314.5h3M413 314.5h37M79 315.5h2M89 315.5h2M92 315.5h2M225 315.5h2M250 315.5h9M260 315.5h1M262 315.5h1M264 315.5h4M269 315.5h3M399 315.5h2M403 315.5h1M407 315.5h1M410 315.5h39M225 316.5h2M245 316.5h5M251 316.5h11M264 316.5h1M266 316.5h2M270 316.5h2M391 316.5h1M396 316.5h1M399 316.5h2M402 316.5h4M407 316.5h2M410 316.5h1M413 316.5h34M80 317.5h2M245 317.5h7M254 317.5h9M264 317.5h1M266 317.5h2M399 317.5h3M403 317.5h2M406 317.5h3M410 317.5h39M80 318.5h2M86 318.5h2M245 318.5h2M259 318.5h4M266 318.5h2M393 318.5h2M400 318.5h2M403 318.5h3M408 318.5h2M411 318.5h2M414 318.5h31M446 318.5h3M86 319.5h2M245 319.5h2M248 319.5h1M252 319.5h1M255 319.5h3M259 319.5h4M266 319.5h2M393 319.5h2M397 319.5h1M399 319.5h1M401 319.5h2M404 319.5h4M412 319.5h4M417 319.5h31M250 320.5h1M255 320.5h2M259 320.5h4M264 320.5h1M389 320.5h1M394 320.5h1M397 320.5h5M406 320.5h2M410 320.5h30M441 320.5h5M447 320.5h1M249 321.5h1M253 321.5h1M258 321.5h1M260 321.5h3M270 321.5h2M398 321.5h2M401 321.5h4M406 321.5h1M410 321.5h3M414 321.5h35M249 322.5h2M253 322.5h1M259 322.5h1M270 322.5h2M394 322.5h1M400 322.5h1M402 322.5h3M406 322.5h4M413 322.5h1M415 322.5h33M449 322.5h1M249 323.5h3M258 323.5h4M394 323.5h2M399 323.5h1M401 323.5h3M405 323.5h1M407 323.5h1M409 323.5h1M412 323.5h37M246 324.5h2M256 324.5h1M258 324.5h4M271 324.5h2M390 324.5h1M397 324.5h2M400 324.5h4M405 324.5h3M409 324.5h1M412 324.5h1M414 324.5h1M416 324.5h33M246 325.5h2M271 325.5h2M390 325.5h1M400 325.5h3M408 325.5h1M411 325.5h1M414 325.5h1M416 325.5h30M447 325.5h2M263 326.5h1M276 326.5h2M395 326.5h1M397 326.5h1M399 326.5h2M403 326.5h1M405 326.5h3M409 326.5h4M414 326.5h36M236 327.5h2M276 327.5h2M396 327.5h5M402 327.5h2M405 327.5h1M407 327.5h2M410 327.5h2M413 327.5h1M415 327.5h33M236 328.5h2M393 328.5h1M400 328.5h5M406 328.5h1M408 328.5h3M413 328.5h1M415 328.5h17M433 328.5h14M448 328.5h1M253 329.5h2M390 329.5h1M397 329.5h5M405 329.5h4M412 329.5h1M414 329.5h34M253 330.5h2M393 330.5h1M396 330.5h1M403 330.5h2M409 330.5h2M413 330.5h2M416 330.5h27M444 330.5h5M395 331.5h1M400 331.5h2M403 331.5h2M406 331.5h1M408 331.5h1M410 331.5h1M413 331.5h34M448 331.5h1M389 332.5h1M395 332.5h1M398 332.5h1M403 332.5h4M408 332.5h2M414 332.5h2M417 332.5h33M399 333.5h1M401 333.5h1M406 333.5h1M408 333.5h1M415 333.5h33M398 334.5h3M403 334.5h1M405 334.5h9M415 334.5h33M396 335.5h1M398 335.5h2M401 335.5h1M403 335.5h1M407 335.5h2M410 335.5h1M415 335.5h1M417 335.5h31M450 335.5h1M396 336.5h1M402 336.5h1M407 336.5h1M409 336.5h1M413 336.5h1M416 336.5h1M418 336.5h3M422 336.5h26M396 337.5h1M398 337.5h2M401 337.5h1M404 337.5h2M407 337.5h1M409 337.5h3M415 337.5h33M403 338.5h1M405 338.5h2M409 338.5h1M414 338.5h1M417 338.5h32M398 339.5h2M401 339.5h1M406 339.5h2M410 339.5h1M416 339.5h1M418 339.5h29M448 339.5h1M399 340.5h1M404 340.5h1M415 340.5h1M417 340.5h1M419 340.5h28M448 340.5h2M238 341.5h2M401 341.5h1M408 341.5h1M416 341.5h1M418 341.5h6M425 341.5h23M449 341.5h1M238 342.5h2M402 342.5h2M412 342.5h1M415 342.5h1M417 342.5h24M442 342.5h6M415 343.5h1M417 343.5h33M409 344.5h1M416 344.5h4M421 344.5h28M414 345.5h1M416 345.5h1M419 345.5h23M443 345.5h6M408 346.5h2M416 346.5h1M419 346.5h29M397 347.5h1M409 347.5h2M418 347.5h31M401 348.5h1M407 348.5h1M414 348.5h1M419 348.5h1M421 348.5h28M396 349.5h1M411 349.5h1M417 349.5h1M419 349.5h29M406 350.5h1M417 350.5h2M420 350.5h28M411 351.5h1M414 351.5h1M416 351.5h5M422 351.5h26M393 352.5h1M413 352.5h1M420 352.5h29M415 353.5h1M418 353.5h30M449 353.5h1M404 354.5h1M406 354.5h1M408 354.5h1M422 354.5h27M422 355.5h25M448 355.5h1M408 356.5h1M410 356.5h1M414 356.5h2M418 356.5h19M438 356.5h9M448 356.5h1M406 357.5h1M415 357.5h1M421 357.5h27M417 358.5h1M421 358.5h28M404 359.5h1M419 359.5h1M421 359.5h29M417 360.5h1M420 360.5h18M439 360.5h7M447 360.5h1M417 361.5h2M420 361.5h2M423 361.5h25M449 361.5h1M413 362.5h1M420 362.5h1M422 362.5h27M411 363.5h1M423 363.5h9M434 363.5h13M448 363.5h2M423 364.5h25M419 365.5h1M421 365.5h29M407 366.5h1M411 366.5h1M421 366.5h29" stroke="#fb1a00" stroke-width="1" fill="none"/><path d="M133 227.5h1M135 227.5h1M137 227.5h1M141 227.5h2M144 227.5h8M156 227.5h1M141 228.5h1M145 228.5h1M149 228.5h1M130 229.5h2M133 229.5h1M137 229.5h2M141 229.5h1M143 229.5h5M149 229.5h1M112 230.5h1M136 230.5h2M141 230.5h5M148 230.5h2M324 230.5h1M132 231.5h2M135 231.5h1M138 231.5h4M148 231.5h1M297 231.5h1M316 231.5h1M130 232.5h2M133 232.5h2M136 232.5h3M140 232.5h4M145 232.5h1M157 232.5h1M312 232.5h1M135 233.5h2M138 233.5h5M145 233.5h3M122 234.5h1M132 234.5h3M136 234.5h3M140 234.5h7M288 234.5h1M302 234.5h1M320 234.5h1M128 235.5h1M132 235.5h15M161 235.5h1M290 235.5h1M295 235.5h1M123 236.5h1M127 236.5h1M131 236.5h2M135 236.5h9M145 236.5h2M307 236.5h1M126 237.5h1M130 237.5h1M132 237.5h8M141 237.5h8M152 237.5h1M307 237.5h1M310 237.5h5M319 237.5h1M126 238.5h20M147 238.5h1M290 238.5h1M308 238.5h2M312 238.5h3M317 238.5h1M124 239.5h1M128 239.5h19M303 239.5h1M305 239.5h1M308 239.5h1M310 239.5h1M312 239.5h1M314 239.5h1M318 239.5h1M124 240.5h2M127 240.5h19M148 240.5h2M154 240.5h1M290 240.5h1M296 240.5h1M305 240.5h2M308 240.5h1M310 240.5h8M120 241.5h1M124 241.5h22M148 241.5h1M297 241.5h1M302 241.5h1M304 241.5h1M307 241.5h2M310 241.5h10M323 241.5h1M121 242.5h1M125 242.5h2M128 242.5h16M145 242.5h1M148 242.5h1M282 242.5h1M299 242.5h1M303 242.5h14M318 242.5h3M121 243.5h3M125 243.5h1M127 243.5h22M296 243.5h1M298 243.5h1M300 243.5h2M303 243.5h1M305 243.5h10M318 243.5h2M470 243.5h1M122 244.5h24M147 244.5h2M289 244.5h1M296 244.5h1M300 244.5h18M121 245.5h1M123 245.5h23M288 245.5h1M293 245.5h2M298 245.5h19M318 245.5h2M322 245.5h1M120 246.5h2M124 246.5h22M291 246.5h1M294 246.5h2M298 246.5h21M320 246.5h1M471 246.5h1M122 247.5h1M124 247.5h20M145 247.5h1M148 247.5h1M287 247.5h2M291 247.5h2M295 247.5h1M297 247.5h1M299 247.5h18M319 247.5h1M465 247.5h1M115 248.5h3M120 248.5h1M123 248.5h20M144 248.5h3M148 248.5h1M293 248.5h1M295 248.5h3M299 248.5h20M321 248.5h1M323 248.5h1M473 248.5h1M478 248.5h1M117 249.5h1M121 249.5h22M289 249.5h2M292 249.5h3M296 249.5h22M321 249.5h1M465 249.5h2M470 249.5h1M472 249.5h1M118 250.5h1M120 250.5h23M289 250.5h3M293 250.5h1M295 250.5h22M320 250.5h1M326 250.5h1M468 250.5h3M117 251.5h5M123 251.5h20M144 251.5h1M146 251.5h1M283 251.5h1M288 251.5h2M291 251.5h26M318 251.5h1M465 251.5h3M469 251.5h1M118 252.5h27M287 252.5h1M290 252.5h25M318 252.5h2M323 252.5h1M463 252.5h2M466 252.5h2M470 252.5h2M475 252.5h1M116 253.5h1M118 253.5h25M285 253.5h29M315 253.5h2M319 253.5h1M460 253.5h1M464 253.5h5M471 253.5h1M114 254.5h1M116 254.5h1M118 254.5h25M282 254.5h1M285 254.5h3M289 254.5h26M318 254.5h1M462 254.5h1M464 254.5h4M469 254.5h4M479 254.5h1M117 255.5h26M280 255.5h1M286 255.5h28M315 255.5h1M317 255.5h1M461 255.5h9M471 255.5h1M113 256.5h1M115 256.5h2M118 256.5h26M280 256.5h1M282 256.5h1M284 256.5h1M286 256.5h29M316 256.5h2M320 256.5h1M463 256.5h1M466 256.5h5M472 256.5h1M114 257.5h1M116 257.5h25M282 257.5h1M286 257.5h27M314 257.5h3M461 257.5h10M472 257.5h1M114 258.5h27M281 258.5h1M283 258.5h1M285 258.5h30M316 258.5h1M462 258.5h4M467 258.5h6M111 259.5h1M113 259.5h26M141 259.5h1M285 259.5h28M314 259.5h3M458 259.5h1M460 259.5h2M463 259.5h3M468 259.5h2M472 259.5h2M476 259.5h1M117 260.5h24M151 260.5h1M280 260.5h1M283 260.5h32M317 260.5h1M320 260.5h1M322 260.5h1M455 260.5h1M458 260.5h10M469 260.5h3M473 260.5h1M115 261.5h23M140 261.5h2M143 261.5h1M281 261.5h1M284 261.5h29M314 261.5h1M317 261.5h1M457 261.5h1M459 261.5h11M471 261.5h2M109 262.5h1M112 262.5h23M136 262.5h2M280 262.5h1M283 262.5h1M285 262.5h27M314 262.5h3M328 262.5h1M457 262.5h11M469 262.5h1M113 263.5h22M138 263.5h1M142 263.5h1M283 263.5h23M307 263.5h6M314 263.5h1M454 263.5h1M456 263.5h1M459 263.5h11M471 263.5h1M474 263.5h1M107 264.5h1M110 264.5h1M112 264.5h5M118 264.5h19M283 264.5h1M285 264.5h1M287 264.5h22M310 264.5h2M458 264.5h1M460 264.5h6M467 264.5h3M471 264.5h1M111 265.5h2M114 265.5h18M133 265.5h1M135 265.5h2M143 265.5h1M283 265.5h2M286 265.5h22M309 265.5h1M311 265.5h1M316 265.5h1M320 265.5h1M454 265.5h1M456 265.5h1M459 265.5h9M471 265.5h2M106 266.5h1M111 266.5h1M114 266.5h21M141 266.5h2M282 266.5h2M287 266.5h18M306 266.5h2M310 266.5h2M313 266.5h3M452 266.5h1M457 266.5h1M459 266.5h1M461 266.5h6M471 266.5h2M111 267.5h4M116 267.5h18M136 267.5h1M284 267.5h1M288 267.5h19M459 267.5h11M109 268.5h1M111 268.5h2M115 268.5h16M133 268.5h1M283 268.5h1M288 268.5h1M291 268.5h6M298 268.5h9M308 268.5h1M460 268.5h8M111 269.5h19M284 269.5h1M288 269.5h1M290 269.5h14M308 269.5h1M311 269.5h1M324 269.5h1M456 269.5h2M459 269.5h2M462 269.5h2M465 269.5h2M472 269.5h1M112 270.5h18M134 270.5h1M140 270.5h1M287 270.5h5M293 270.5h1M295 270.5h1M297 270.5h5M304 270.5h1M307 270.5h1M315 270.5h1M317 270.5h1M458 270.5h5M464 270.5h2M470 270.5h1M109 271.5h1M112 271.5h4M117 271.5h9M127 271.5h4M133 271.5h5M283 271.5h2M290 271.5h1M292 271.5h1M300 271.5h2M303 271.5h3M308 271.5h1M313 271.5h1M457 271.5h3M462 271.5h2M465 271.5h1M107 272.5h1M110 272.5h17M293 272.5h1M296 272.5h3M303 272.5h1M307 272.5h1M454 272.5h1M458 272.5h2M461 272.5h4M110 273.5h1M112 273.5h14M129 273.5h1M296 273.5h1M303 273.5h1M317 273.5h1M460 273.5h1M464 273.5h1M111 274.5h3M115 274.5h8M124 274.5h3M128 274.5h1M288 274.5h1M291 274.5h1M294 274.5h1M454 274.5h1M458 274.5h1M461 274.5h1M466 274.5h1M468 274.5h1M111 275.5h11M123 275.5h3M280 275.5h1M291 275.5h1M456 275.5h1M461 275.5h1M464 275.5h1M110 276.5h1M112 276.5h5M118 276.5h1M121 276.5h2M288 276.5h1M290 276.5h1M455 276.5h1M468 276.5h1M109 277.5h1M112 277.5h1M114 277.5h1M116 277.5h9M126 277.5h2M456 277.5h1M461 277.5h1M468 277.5h1M110 278.5h4M116 278.5h2M119 278.5h3M126 278.5h1M307 278.5h1M110 279.5h1M113 279.5h4M118 279.5h2M123 279.5h2M299 279.5h1M304 280.5h1M453 280.5h1" stroke="#62ff00" stroke-width="1" fill="none"/><path d="M124 285.5h1M121 288.5h1M123 288.5h1M127 289.5h2M134 289.5h1M118 290.5h1M127 290.5h2M132 290.5h1M122 291.5h1M124 291.5h2M128 291.5h1M132 291.5h2M139 291.5h1M124 292.5h2M128 292.5h1M130 292.5h1M132 292.5h2M136 292.5h1M138 292.5h1M116 293.5h1M119 293.5h4M124 293.5h10M135 293.5h2M141 293.5h1M119 294.5h3M123 294.5h3M127 294.5h1M129 294.5h3M133 294.5h2M119 295.5h16M136 295.5h1M138 295.5h1M140 295.5h1M113 296.5h1M115 296.5h1M119 296.5h17M137 296.5h1M114 297.5h1M116 297.5h23M140 297.5h2M143 297.5h1M114 298.5h1M116 298.5h22M142 298.5h1M114 299.5h1M118 299.5h22M112 300.5h2M116 300.5h25M114 301.5h23M138 301.5h3M113 302.5h1M116 302.5h22M139 302.5h2M142 302.5h1M112 303.5h1M114 303.5h25M140 303.5h1M142 303.5h1M112 304.5h1M114 304.5h24M139 304.5h1M142 304.5h1M112 305.5h1M114 305.5h1M117 305.5h25M112 306.5h1M115 306.5h26M144 306.5h1M114 307.5h1M117 307.5h22M140 307.5h1M142 307.5h1M111 308.5h1M113 308.5h1M116 308.5h23M140 308.5h1M312 308.5h1M116 309.5h27M144 309.5h1M117 310.5h1M119 310.5h18M140 310.5h2M112 311.5h4M118 311.5h21M140 311.5h2M143 311.5h1M313 311.5h1M116 312.5h1M118 312.5h1M120 312.5h18M139 312.5h3M316 312.5h1M118 313.5h2M121 313.5h19M120 314.5h3M124 314.5h16M316 314.5h1M123 315.5h15M141 315.5h1M310 315.5h1M316 315.5h1M119 316.5h1M121 316.5h1M123 316.5h2M126 316.5h15M146 316.5h1M315 316.5h1M118 317.5h1M125 317.5h2M128 317.5h11M140 317.5h3M312 317.5h1M315 317.5h1M318 317.5h1M120 318.5h1M125 318.5h11M137 318.5h5M308 318.5h1M312 318.5h1M318 318.5h1M129 319.5h14M145 319.5h1M148 319.5h1M124 320.5h1M126 320.5h2M130 320.5h11M143 320.5h1M319 320.5h1M125 321.5h17M143 321.5h2M309 321.5h2M319 321.5h1M118 322.5h1M127 322.5h15M144 322.5h1M124 323.5h1M128 323.5h1M130 323.5h7M139 323.5h1M141 323.5h2M312 323.5h2M126 324.5h1M128 324.5h6M135 324.5h10M313 324.5h1M125 325.5h1M128 325.5h3M132 325.5h7M140 325.5h1M142 325.5h1M311 325.5h1M314 325.5h2M125 326.5h1M127 326.5h16M145 326.5h1M147 326.5h1M129 327.5h16M314 327.5h2M128 328.5h1M132 328.5h4M137 328.5h3M141 328.5h2M311 328.5h1M313 328.5h2M130 329.5h1M133 329.5h9M144 329.5h1M312 329.5h1M317 329.5h1M126 330.5h1M130 330.5h10M141 330.5h5M309 330.5h1M314 330.5h1M317 330.5h1M130 331.5h1M132 331.5h7M140 331.5h3M144 331.5h1M310 331.5h1M313 331.5h1M316 331.5h2M130 332.5h1M133 332.5h2M136 332.5h3M140 332.5h3M144 332.5h1M312 332.5h1M317 332.5h2M130 333.5h12M143 333.5h2M313 333.5h2M133 334.5h11M311 334.5h1M314 334.5h1M318 334.5h1M320 334.5h1M135 335.5h6M144 335.5h1M153 335.5h1M311 335.5h2M317 335.5h1M131 336.5h8M140 336.5h4M145 336.5h1M310 336.5h1M315 336.5h1M132 337.5h1M135 337.5h1M137 337.5h7M146 337.5h2M153 337.5h1M311 337.5h5M317 337.5h1M134 338.5h4M139 338.5h1M141 338.5h4M147 338.5h1M311 338.5h2M316 338.5h1M318 338.5h1M133 339.5h1M135 339.5h3M139 339.5h4M145 339.5h1M312 339.5h1M314 339.5h2M130 340.5h1M132 340.5h2M135 340.5h6M142 340.5h1M144 340.5h1M309 340.5h1M313 340.5h1M132 341.5h1M134 341.5h1M136 341.5h3M140 341.5h5M146 341.5h1M309 341.5h1M311 341.5h2M316 341.5h2M130 342.5h1M133 342.5h2M136 342.5h1M138 342.5h4M143 342.5h2M312 342.5h4M133 343.5h3M139 343.5h4M307 343.5h1M309 343.5h1M311 343.5h4M316 343.5h1M134 344.5h3M138 344.5h4M143 344.5h3M315 344.5h1M319 344.5h1M134 345.5h5M140 345.5h1M142 345.5h4M147 345.5h1M312 345.5h2M315 345.5h1M132 346.5h2M137 346.5h2M140 346.5h3M145 346.5h2M304 346.5h1M307 346.5h1M313 346.5h2M317 346.5h1M136 347.5h2M139 347.5h7M313 347.5h1M315 347.5h2M132 348.5h1M136 348.5h7M314 348.5h1M134 349.5h1M136 349.5h8M310 349.5h3M316 349.5h1M318 349.5h1M133 350.5h3M137 350.5h7M309 350.5h1M314 350.5h1M135 351.5h1M137 351.5h4M142 351.5h2M145 351.5h1M148 351.5h1M150 351.5h1M307 351.5h1M311 351.5h1M315 351.5h1M317 351.5h1M134 352.5h4M139 352.5h4M144 352.5h1M306 352.5h1M310 352.5h1M313 352.5h1M315 352.5h1M133 353.5h2M136 353.5h3M140 353.5h1M143 353.5h2M310 353.5h4M315 353.5h1M135 354.5h1M138 354.5h3M142 354.5h1M144 354.5h1M310 354.5h2M314 354.5h1M316 354.5h1M133 355.5h1M137 355.5h6M144 355.5h1M316 355.5h1M133 356.5h2M137 356.5h2M140 356.5h1M308 356.5h2M312 356.5h2M315 356.5h2M319 356.5h1M132 357.5h1M134 357.5h4M139 357.5h1M141 357.5h3M145 357.5h1M149 357.5h1M310 357.5h5M316 357.5h1M320 357.5h1M136 358.5h6M143 358.5h2M308 358.5h1M312 358.5h3M319 358.5h1M130 359.5h1M133 359.5h1M135 359.5h2M140 359.5h4M311 359.5h5M135 360.5h2M138 360.5h1M141 360.5h3M145 360.5h1M310 360.5h1M312 360.5h4M129 361.5h1M137 361.5h3M141 361.5h2M144 361.5h1M146 361.5h1M305 361.5h1M312 361.5h4M318 361.5h1M134 362.5h1M138 362.5h1M140 362.5h3M308 362.5h1M313 362.5h4M133 363.5h1M135 363.5h3M139 363.5h1M141 363.5h4M309 363.5h3M318 363.5h1M131 364.5h4M136 364.5h9M306 364.5h1M309 364.5h1M311 364.5h2M314 364.5h3M318 364.5h1" stroke="#2a00f0" stroke-width="1" fill="none"/><path d="M419 270.5h1M424 274.5h1M412 276.5h1M467 276.5h1M493 279.5h1M458 286.5h1M466 291.5h1M473 293.5h1M454 296.5h1M458 296.5h1M453 299.5h1M478 300.5h1M470 304.5h1M470 306.5h1M472 306.5h1M477 308.5h1M494 313.5h1M488 315.5h1M483 320.5h1M455 323.5h1M482 327.5h1M478 328.5h1M471 330.5h1M465 331.5h1M479 333.5h1M506 337.5h1M459 338.5h1M483 341.5h1M471 342.5h1M463 347.5h1M478 352.5h1M470 354.5h1M461 357.5h1" stroke="#f4a0a0" stroke-width="1" fill="none"/>
<line x1="410" y1="10.6" x2="442.3" y2="10.6" stroke="#f49a9a" stroke-width="1"/>
<rect x="100" y="9" width="147" height="170" fill="none" stroke="#000" stroke-width="1.4"/>
<line x1="96.0" y1="179.0" x2="100.0" y2="179.0" stroke="#000" stroke-width="1.1"/>
<line x1="97.5" y1="166.2" x2="100.0" y2="166.2" stroke="#000" stroke-width="1.1"/>
<line x1="97.5" y1="158.7" x2="100.0" y2="158.7" stroke="#000" stroke-width="1.1"/>
<line x1="97.5" y1="153.4" x2="100.0" y2="153.4" stroke="#000" stroke-width="1.1"/>
<line x1="97.5" y1="149.3" x2="100.0" y2="149.3" stroke="#000" stroke-width="1.1"/>
<line x1="97.5" y1="145.9" x2="100.0" y2="145.9" stroke="#000" stroke-width="1.1"/>
<line x1="97.5" y1="143.1" x2="100.0" y2="143.1" stroke="#000" stroke-width="1.1"/>
<line x1="97.5" y1="140.6" x2="100.0" y2="140.6" stroke="#000" stroke-width="1.1"/>
<line x1="97.5" y1="138.4" x2="100.0" y2="138.4" stroke="#000" stroke-width="1.1"/>
<line x1="96.0" y1="136.5" x2="100.0" y2="136.5" stroke="#000" stroke-width="1.1"/>
<line x1="97.5" y1="123.7" x2="100.0" y2="123.7" stroke="#000" stroke-width="1.1"/>
<line x1="97.5" y1="116.2" x2="100.0" y2="116.2" stroke="#000" stroke-width="1.1"/>
<line x1="97.5" y1="110.9" x2="100.0" y2="110.9" stroke="#000" stroke-width="1.1"/>
<line x1="97.5" y1="106.8" x2="100.0" y2="106.8" stroke="#000" stroke-width="1.1"/>
<line x1="97.5" y1="103.4" x2="100.0" y2="103.4" stroke="#000" stroke-width="1.1"/>
<line x1="97.5" y1="100.6" x2="100.0" y2="100.6" stroke="#000" stroke-width="1.1"/>
<line x1="97.5" y1="98.1" x2="100.0" y2="98.1" stroke="#000" stroke-width="1.1"/>
<line x1="97.5" y1="95.9" x2="100.0" y2="95.9" stroke="#000" stroke-width="1.1"/>
<line x1="96.0" y1="94.0" x2="100.0" y2="94.0" stroke="#000" stroke-width="1.1"/>
<line x1="97.5" y1="81.2" x2="100.0" y2="81.2" stroke="#000" stroke-width="1.1"/>
<line x1="97.5" y1="73.7" x2="100.0" y2="73.7" stroke="#000" stroke-width="1.1"/>
<line x1="97.5" y1="68.4" x2="100.0" y2="68.4" stroke="#000" stroke-width="1.1"/>
<line x1="97.5" y1="64.3" x2="100.0" y2="64.3" stroke="#000" stroke-width="1.1"/>
<line x1="97.5" y1="60.9" x2="100.0" y2="60.9" stroke="#000" stroke-width="1.1"/>
<line x1="97.5" y1="58.1" x2="100.0" y2="58.1" stroke="#000" stroke-width="1.1"/>
<line x1="97.5" y1="55.6" x2="100.0" y2="55.6" stroke="#000" stroke-width="1.1"/>
<line x1="97.5" y1="53.4" x2="100.0" y2="53.4" stroke="#000" stroke-width="1.1"/>
<line x1="96.0" y1="51.5" x2="100.0" y2="51.5" stroke="#000" stroke-width="1.1"/>
<line x1="97.5" y1="38.7" x2="100.0" y2="38.7" stroke="#000" stroke-width="1.1"/>
<line x1="97.5" y1="31.2" x2="100.0" y2="31.2" stroke="#000" stroke-width="1.1"/>
<line x1="97.5" y1="25.9" x2="100.0" y2="25.9" stroke="#000" stroke-width="1.1"/>
<line x1="97.5" y1="21.8" x2="100.0" y2="21.8" stroke="#000" stroke-width="1.1"/>
<line x1="97.5" y1="18.4" x2="100.0" y2="18.4" stroke="#000" stroke-width="1.1"/>
<line x1="97.5" y1="15.6" x2="100.0" y2="15.6" stroke="#000" stroke-width="1.1"/>
<line x1="97.5" y1="13.1" x2="100.0" y2="13.1" stroke="#000" stroke-width="1.1"/>
<line x1="97.5" y1="10.9" x2="100.0" y2="10.9" stroke="#000" stroke-width="1.1"/>
<line x1="96.0" y1="9.0" x2="100.0" y2="9.0" stroke="#000" stroke-width="1.1"/>
<line x1="100.8" y1="179.0" x2="100.8" y2="183.5" stroke="#000" stroke-width="1.1"/>
<line x1="106.5" y1="179.0" x2="106.5" y2="182.0" stroke="#000" stroke-width="1.1"/>
<line x1="112.1" y1="179.0" x2="112.1" y2="182.0" stroke="#000" stroke-width="1.1"/>
<line x1="117.8" y1="179.0" x2="117.8" y2="182.0" stroke="#000" stroke-width="1.1"/>
<line x1="123.4" y1="179.0" x2="123.4" y2="182.0" stroke="#000" stroke-width="1.1"/>
<line x1="129.1" y1="179.0" x2="129.1" y2="183.5" stroke="#000" stroke-width="1.1"/>
<line x1="134.8" y1="179.0" x2="134.8" y2="182.0" stroke="#000" stroke-width="1.1"/>
<line x1="140.4" y1="179.0" x2="140.4" y2="182.0" stroke="#000" stroke-width="1.1"/>
<line x1="146.1" y1="179.0" x2="146.1" y2="182.0" stroke="#000" stroke-width="1.1"/>
<line x1="151.7" y1="179.0" x2="151.7" y2="182.0" stroke="#000" stroke-width="1.1"/>
<line x1="157.4" y1="179.0" x2="157.4" y2="183.5" stroke="#000" stroke-width="1.1"/>
<line x1="163.1" y1="179.0" x2="163.1" y2="182.0" stroke="#000" stroke-width="1.1"/>
<line x1="168.7" y1="179.0" x2="168.7" y2="182.0" stroke="#000" stroke-width="1.1"/>
<line x1="174.4" y1="179.0" x2="174.4" y2="182.0" stroke="#000" stroke-width="1.1"/>
<line x1="180.0" y1="179.0" x2="180.0" y2="182.0" stroke="#000" stroke-width="1.1"/>
<line x1="185.7" y1="179.0" x2="185.7" y2="183.5" stroke="#000" stroke-width="1.1"/>
<line x1="191.4" y1="179.0" x2="191.4" y2="182.0" stroke="#000" stroke-width="1.1"/>
<line x1="197.0" y1="179.0" x2="197.0" y2="182.0" stroke="#000" stroke-width="1.1"/>
<line x1="202.7" y1="179.0" x2="202.7" y2="182.0" stroke="#000" stroke-width="1.1"/>
<line x1="208.3" y1="179.0" x2="208.3" y2="182.0" stroke="#000" stroke-width="1.1"/>
<line x1="214.0" y1="179.0" x2="214.0" y2="183.5" stroke="#000" stroke-width="1.1"/>
<line x1="219.7" y1="179.0" x2="219.7" y2="182.0" stroke="#000" stroke-width="1.1"/>
<line x1="225.3" y1="179.0" x2="225.3" y2="182.0" stroke="#000" stroke-width="1.1"/>
<line x1="231.0" y1="179.0" x2="231.0" y2="182.0" stroke="#000" stroke-width="1.1"/>
<line x1="236.6" y1="179.0" x2="236.6" y2="182.0" stroke="#000" stroke-width="1.1"/>
<line x1="242.3" y1="179.0" x2="242.3" y2="183.5" stroke="#000" stroke-width="1.1"/>
<text transform="translate(101.6,192.8) scale(0.87,1)" font-size="10" text-anchor="middle" fill="#000" font-weight="normal" stroke="#000" stroke-width="0.35">0</text>
<text transform="translate(129.9,192.8) scale(0.87,1)" font-size="10" text-anchor="middle" fill="#000" font-weight="normal" stroke="#000" stroke-width="0.35">200</text>
<text transform="translate(158.2,192.8) scale(0.87,1)" font-size="10" text-anchor="middle" fill="#000" font-weight="normal" stroke="#000" stroke-width="0.35">400</text>
<text transform="translate(186.5,192.8) scale(0.87,1)" font-size="10" text-anchor="middle" fill="#000" font-weight="normal" stroke="#000" stroke-width="0.35">600</text>
<text transform="translate(214.8,192.8) scale(0.87,1)" font-size="10" text-anchor="middle" fill="#000" font-weight="normal" stroke="#000" stroke-width="0.35">800</text>
<text transform="translate(243.1,192.8) scale(0.87,1)" font-size="10" text-anchor="middle" fill="#000" font-weight="normal" stroke="#000" stroke-width="0.35">1000</text>
<text transform="translate(92.9,187.6) rotate(-90) scale(0.88,1)" font-size="9.4" stroke="#000" stroke-width="0.3">10<tspan dx="1.5" dy="-5">0</tspan></text>
<text transform="translate(92.9,145.1) rotate(-90) scale(0.88,1)" font-size="9.4" stroke="#000" stroke-width="0.3">10<tspan dx="1.5" dy="-5">1</tspan></text>
<text transform="translate(92.9,102.6) rotate(-90) scale(0.88,1)" font-size="9.4" stroke="#000" stroke-width="0.3">10<tspan dx="1.5" dy="-5">2</tspan></text>
<text transform="translate(92.9,60.1) rotate(-90) scale(0.88,1)" font-size="9.4" stroke="#000" stroke-width="0.3">10<tspan dx="1.5" dy="-5">3</tspan></text>
<text transform="translate(92.9,17.6) rotate(-90) scale(0.88,1)" font-size="9.4" stroke="#000" stroke-width="0.3">10<tspan dx="1.5" dy="-5">4</tspan></text>
<text transform="translate(79.2,119.5) rotate(-90)" font-size="12" text-anchor="middle" fill="#000" font-weight="normal">CD15 FITC</text>
<text transform="translate(176.5,210.8)" font-size="12" text-anchor="middle" fill="#000" font-weight="normal">SSC-Height</text>
<polygon points="183.5,20.4 247,16.5 247,98 222,98 209.5,96.5 199,92.8 187.2,87.6 172.3,81 165,74 156.7,65 155.2,53 156.7,40 158.6,34.8" fill="none" stroke="#000" stroke-width="1.1"/>
<text transform="translate(148.8,29.6) scale(0.85,1)" font-size="10" text-anchor="middle" fill="#000" font-weight="bold">R1</text>
<text transform="translate(68.8,19.3)" font-size="24" text-anchor="middle" fill="#000" font-weight="bold">A</text>
<rect x="294" y="9" width="149" height="170" fill="none" stroke="#000" stroke-width="1.4"/>
<line x1="294.7" y1="179.0" x2="294.7" y2="183.5" stroke="#000" stroke-width="1.1"/>
<line x1="300.5" y1="179.0" x2="300.5" y2="182.0" stroke="#000" stroke-width="1.1"/>
<line x1="306.3" y1="179.0" x2="306.3" y2="182.0" stroke="#000" stroke-width="1.1"/>
<line x1="312.0" y1="179.0" x2="312.0" y2="182.0" stroke="#000" stroke-width="1.1"/>
<line x1="317.8" y1="179.0" x2="317.8" y2="182.0" stroke="#000" stroke-width="1.1"/>
<line x1="323.6" y1="179.0" x2="323.6" y2="183.5" stroke="#000" stroke-width="1.1"/>
<line x1="329.4" y1="179.0" x2="329.4" y2="182.0" stroke="#000" stroke-width="1.1"/>
<line x1="335.2" y1="179.0" x2="335.2" y2="182.0" stroke="#000" stroke-width="1.1"/>
<line x1="340.9" y1="179.0" x2="340.9" y2="182.0" stroke="#000" stroke-width="1.1"/>
<line x1="346.7" y1="179.0" x2="346.7" y2="182.0" stroke="#000" stroke-width="1.1"/>
<line x1="352.5" y1="179.0" x2="352.5" y2="183.5" stroke="#000" stroke-width="1.1"/>
<line x1="358.3" y1="179.0" x2="358.3" y2="182.0" stroke="#000" stroke-width="1.1"/>
<line x1="364.1" y1="179.0" x2="364.1" y2="182.0" stroke="#000" stroke-width="1.1"/>
<line x1="369.8" y1="179.0" x2="369.8" y2="182.0" stroke="#000" stroke-width="1.1"/>
<line x1="375.6" y1="179.0" x2="375.6" y2="182.0" stroke="#000" stroke-width="1.1"/>
<line x1="381.4" y1="179.0" x2="381.4" y2="183.5" stroke="#000" stroke-width="1.1"/>
<line x1="387.2" y1="179.0" x2="387.2" y2="182.0" stroke="#000" stroke-width="1.1"/>
<line x1="393.0" y1="179.0" x2="393.0" y2="182.0" stroke="#000" stroke-width="1.1"/>
<line x1="398.7" y1="179.0" x2="398.7" y2="182.0" stroke="#000" stroke-width="1.1"/>
<line x1="404.5" y1="179.0" x2="404.5" y2="182.0" stroke="#000" stroke-width="1.1"/>
<line x1="410.3" y1="179.0" x2="410.3" y2="183.5" stroke="#000" stroke-width="1.1"/>
<line x1="416.1" y1="179.0" x2="416.1" y2="182.0" stroke="#000" stroke-width="1.1"/>
<line x1="421.9" y1="179.0" x2="421.9" y2="182.0" stroke="#000" stroke-width="1.1"/>
<line x1="427.6" y1="179.0" x2="427.6" y2="182.0" stroke="#000" stroke-width="1.1"/>
<line x1="433.4" y1="179.0" x2="433.4" y2="182.0" stroke="#000" stroke-width="1.1"/>
<line x1="439.2" y1="179.0" x2="439.2" y2="183.5" stroke="#000" stroke-width="1.1"/>
<text transform="translate(295.0,192.8) scale(0.87,1)" font-size="10" text-anchor="middle" fill="#000" font-weight="normal" stroke="#000" stroke-width="0.35">0</text>
<text transform="translate(323.9,192.8) scale(0.87,1)" font-size="10" text-anchor="middle" fill="#000" font-weight="normal" stroke="#000" stroke-width="0.35">200</text>
<text transform="translate(352.8,192.8) scale(0.87,1)" font-size="10" text-anchor="middle" fill="#000" font-weight="normal" stroke="#000" stroke-width="0.35">400</text>
<text transform="translate(381.7,192.8) scale(0.87,1)" font-size="10" text-anchor="middle" fill="#000" font-weight="normal" stroke="#000" stroke-width="0.35">600</text>
<text transform="translate(410.6,192.8) scale(0.87,1)" font-size="10" text-anchor="middle" fill="#000" font-weight="normal" stroke="#000" stroke-width="0.35">800</text>
<text transform="translate(439.5,192.8) scale(0.87,1)" font-size="10" text-anchor="middle" fill="#000" font-weight="normal" stroke="#000" stroke-width="0.35">1000</text>
<line x1="289.5" y1="178.4" x2="294.0" y2="178.4" stroke="#000" stroke-width="1.1"/>
<line x1="291.0" y1="171.8" x2="294.0" y2="171.8" stroke="#000" stroke-width="1.1"/>
<line x1="291.0" y1="165.3" x2="294.0" y2="165.3" stroke="#000" stroke-width="1.1"/>
<line x1="291.0" y1="158.7" x2="294.0" y2="158.7" stroke="#000" stroke-width="1.1"/>
<line x1="291.0" y1="152.1" x2="294.0" y2="152.1" stroke="#000" stroke-width="1.1"/>
<line x1="289.5" y1="145.5" x2="294.0" y2="145.5" stroke="#000" stroke-width="1.1"/>
<line x1="291.0" y1="139.0" x2="294.0" y2="139.0" stroke="#000" stroke-width="1.1"/>
<line x1="291.0" y1="132.4" x2="294.0" y2="132.4" stroke="#000" stroke-width="1.1"/>
<line x1="291.0" y1="125.8" x2="294.0" y2="125.8" stroke="#000" stroke-width="1.1"/>
<line x1="291.0" y1="119.3" x2="294.0" y2="119.3" stroke="#000" stroke-width="1.1"/>
<line x1="289.5" y1="112.7" x2="294.0" y2="112.7" stroke="#000" stroke-width="1.1"/>
<line x1="291.0" y1="106.1" x2="294.0" y2="106.1" stroke="#000" stroke-width="1.1"/>
<line x1="291.0" y1="99.5" x2="294.0" y2="99.5" stroke="#000" stroke-width="1.1"/>
<line x1="291.0" y1="93.0" x2="294.0" y2="93.0" stroke="#000" stroke-width="1.1"/>
<line x1="291.0" y1="86.4" x2="294.0" y2="86.4" stroke="#000" stroke-width="1.1"/>
<line x1="289.5" y1="79.8" x2="294.0" y2="79.8" stroke="#000" stroke-width="1.1"/>
<line x1="291.0" y1="73.2" x2="294.0" y2="73.2" stroke="#000" stroke-width="1.1"/>
<line x1="291.0" y1="66.7" x2="294.0" y2="66.7" stroke="#000" stroke-width="1.1"/>
<line x1="291.0" y1="60.1" x2="294.0" y2="60.1" stroke="#000" stroke-width="1.1"/>
<line x1="291.0" y1="53.5" x2="294.0" y2="53.5" stroke="#000" stroke-width="1.1"/>
<line x1="289.5" y1="47.0" x2="294.0" y2="47.0" stroke="#000" stroke-width="1.1"/>
<line x1="291.0" y1="40.4" x2="294.0" y2="40.4" stroke="#000" stroke-width="1.1"/>
<line x1="291.0" y1="33.8" x2="294.0" y2="33.8" stroke="#000" stroke-width="1.1"/>
<line x1="291.0" y1="27.2" x2="294.0" y2="27.2" stroke="#000" stroke-width="1.1"/>
<line x1="291.0" y1="20.7" x2="294.0" y2="20.7" stroke="#000" stroke-width="1.1"/>
<line x1="289.5" y1="14.1" x2="294.0" y2="14.1" stroke="#000" stroke-width="1.1"/>
<clipPath id="cl"><rect x="283" y="0" width="10" height="200"/></clipPath>
<text transform="translate(287.0,178.2) rotate(-90)" font-size="9" text-anchor="middle" fill="#000" font-weight="normal" stroke="#000" stroke-width="0.25">0</text>
<g clip-path="url(#cl)">
<text transform="translate(287.0,145.4) rotate(-90)" font-size="9" text-anchor="middle" fill="#000" font-weight="normal" stroke="#000" stroke-width="0.25">200</text>
</g>
<g clip-path="url(#cl)">
<text transform="translate(287.0,112.6) rotate(-90)" font-size="9" text-anchor="middle" fill="#000" font-weight="normal" stroke="#000" stroke-width="0.25">400</text>
</g>
<g clip-path="url(#cl)">
<text transform="translate(287.0,79.7) rotate(-90)" font-size="9" text-anchor="middle" fill="#000" font-weight="normal" stroke="#000" stroke-width="0.25">600</text>
</g>
<text transform="translate(287.0,46.9) rotate(-90)" font-size="9" text-anchor="middle" fill="#000" font-weight="normal" stroke="#000" stroke-width="0.25">800</text>
<text transform="translate(287.0,14.1) rotate(-90)" font-size="9" text-anchor="middle" fill="#000" font-weight="normal" stroke="#000" stroke-width="0.25">1000</text>
<text transform="translate(274.3,118.0) rotate(-90)" font-size="12" text-anchor="middle" fill="#000" font-weight="normal">SSC-Height</text>
<text transform="translate(367.0,210.8)" font-size="12" text-anchor="middle" fill="#000" font-weight="normal">FSC-Height</text>
<clipPath id="cb"><rect x="294" y="9" width="149" height="170"/></clipPath><g clip-path="url(#cb)"><ellipse cx="384.5" cy="47.5" rx="33.5" ry="64.2" transform="rotate(15.9 384.5 47.5)" fill="none" stroke="#000" stroke-width="1.1"/></g>
<text transform="translate(427.4,78.5) scale(0.85,1)" font-size="10" text-anchor="middle" fill="#000" font-weight="bold">R2</text>
<text transform="translate(266.0,20.2)" font-size="23" text-anchor="middle" fill="#000" font-weight="bold">B</text>
<rect x="36.2" y="226.5" width="125.10000000000001" height="138.0" fill="none" stroke="#000" stroke-width="1.4"/>
<line x1="105.8" y1="226.5" x2="105.8" y2="364.5" stroke="#222" stroke-width="1.1"/>
<line x1="36.2" y1="281.2" x2="161.3" y2="281.2" stroke="#222" stroke-width="1.1"/>
<line x1="30.2" y1="364.5" x2="36.2" y2="364.5" stroke="#000" stroke-width="1.1"/>
<line x1="34.0" y1="354.1" x2="36.2" y2="354.1" stroke="#000" stroke-width="1.1"/>
<line x1="34.0" y1="343.7" x2="36.2" y2="343.7" stroke="#000" stroke-width="1.1"/>
<line x1="34.0" y1="337.7" x2="36.2" y2="337.7" stroke="#000" stroke-width="1.1"/>
<line x1="34.0" y1="333.3" x2="36.2" y2="333.3" stroke="#000" stroke-width="1.1"/>
<line x1="30.2" y1="330.0" x2="36.2" y2="330.0" stroke="#000" stroke-width="1.1"/>
<line x1="34.0" y1="319.6" x2="36.2" y2="319.6" stroke="#000" stroke-width="1.1"/>
<line x1="34.0" y1="309.2" x2="36.2" y2="309.2" stroke="#000" stroke-width="1.1"/>
<line x1="34.0" y1="303.2" x2="36.2" y2="303.2" stroke="#000" stroke-width="1.1"/>
<line x1="34.0" y1="298.8" x2="36.2" y2="298.8" stroke="#000" stroke-width="1.1"/>
<line x1="30.2" y1="295.5" x2="36.2" y2="295.5" stroke="#000" stroke-width="1.1"/>
<line x1="34.0" y1="285.1" x2="36.2" y2="285.1" stroke="#000" stroke-width="1.1"/>
<line x1="34.0" y1="274.7" x2="36.2" y2="274.7" stroke="#000" stroke-width="1.1"/>
<line x1="34.0" y1="268.7" x2="36.2" y2="268.7" stroke="#000" stroke-width="1.1"/>
<line x1="34.0" y1="264.3" x2="36.2" y2="264.3" stroke="#000" stroke-width="1.1"/>
<line x1="30.2" y1="261.0" x2="36.2" y2="261.0" stroke="#000" stroke-width="1.1"/>
<line x1="34.0" y1="250.6" x2="36.2" y2="250.6" stroke="#000" stroke-width="1.1"/>
<line x1="34.0" y1="240.2" x2="36.2" y2="240.2" stroke="#000" stroke-width="1.1"/>
<line x1="34.0" y1="234.2" x2="36.2" y2="234.2" stroke="#000" stroke-width="1.1"/>
<line x1="34.0" y1="229.8" x2="36.2" y2="229.8" stroke="#000" stroke-width="1.1"/>
<line x1="30.2" y1="226.5" x2="36.2" y2="226.5" stroke="#000" stroke-width="1.1"/>
<line x1="36.2" y1="364.5" x2="36.2" y2="370.5" stroke="#000" stroke-width="1.1"/>
<line x1="45.6" y1="364.5" x2="45.6" y2="366.5" stroke="#000" stroke-width="1.1"/>
<line x1="55.0" y1="364.5" x2="55.0" y2="366.5" stroke="#000" stroke-width="1.1"/>
<line x1="60.5" y1="364.5" x2="60.5" y2="366.5" stroke="#000" stroke-width="1.1"/>
<line x1="64.4" y1="364.5" x2="64.4" y2="366.5" stroke="#000" stroke-width="1.1"/>
<line x1="67.5" y1="364.5" x2="67.5" y2="370.5" stroke="#000" stroke-width="1.1"/>
<line x1="76.9" y1="364.5" x2="76.9" y2="366.5" stroke="#000" stroke-width="1.1"/>
<line x1="86.3" y1="364.5" x2="86.3" y2="366.5" stroke="#000" stroke-width="1.1"/>
<line x1="91.8" y1="364.5" x2="91.8" y2="366.5" stroke="#000" stroke-width="1.1"/>
<line x1="95.7" y1="364.5" x2="95.7" y2="366.5" stroke="#000" stroke-width="1.1"/>
<line x1="98.8" y1="364.5" x2="98.8" y2="370.5" stroke="#000" stroke-width="1.1"/>
<line x1="108.2" y1="364.5" x2="108.2" y2="366.5" stroke="#000" stroke-width="1.1"/>
<line x1="117.6" y1="364.5" x2="117.6" y2="366.5" stroke="#000" stroke-width="1.1"/>
<line x1="123.1" y1="364.5" x2="123.1" y2="366.5" stroke="#000" stroke-width="1.1"/>
<line x1="127.0" y1="364.5" x2="127.0" y2="366.5" stroke="#000" stroke-width="1.1"/>
<line x1="130.0" y1="364.5" x2="130.0" y2="370.5" stroke="#000" stroke-width="1.1"/>
<line x1="139.4" y1="364.5" x2="139.4" y2="366.5" stroke="#000" stroke-width="1.1"/>
<line x1="148.9" y1="364.5" x2="148.9" y2="366.5" stroke="#000" stroke-width="1.1"/>
<line x1="154.4" y1="364.5" x2="154.4" y2="366.5" stroke="#000" stroke-width="1.1"/>
<line x1="158.3" y1="364.5" x2="158.3" y2="366.5" stroke="#000" stroke-width="1.1"/>
<line x1="161.3" y1="364.5" x2="161.3" y2="370.5" stroke="#000" stroke-width="1.1"/>
<text transform="translate(28.8,371.7) rotate(-90)" font-size="10" stroke="#000" stroke-width="0.25">10<tspan font-size="6.8" dy="-2.6">0</tspan></text>
<text transform="translate(28.8,337.2) rotate(-90)" font-size="10" stroke="#000" stroke-width="0.25">10<tspan font-size="6.8" dy="-2.6">1</tspan></text>
<text transform="translate(28.8,302.7) rotate(-90)" font-size="10" stroke="#000" stroke-width="0.25">10<tspan font-size="6.8" dy="-2.6">2</tspan></text>
<text transform="translate(28.8,268.2) rotate(-90)" font-size="10" stroke="#000" stroke-width="0.25">10<tspan font-size="6.8" dy="-2.6">3</tspan></text>
<text transform="translate(28.8,233.7) rotate(-90)" font-size="10" stroke="#000" stroke-width="0.25">10<tspan font-size="6.8" dy="-2.6">4</tspan></text>
<text x="29.4" y="380.5" font-size="10" stroke="#000" stroke-width="0.25">10<tspan font-size="6.8" dy="-2.4">0</tspan></text>
<text x="60.7" y="380.5" font-size="10" stroke="#000" stroke-width="0.25">10<tspan font-size="6.8" dy="-2.4">1</tspan></text>
<text x="92.0" y="380.5" font-size="10" stroke="#000" stroke-width="0.25">10<tspan font-size="6.8" dy="-2.4">2</tspan></text>
<text x="123.2" y="380.5" font-size="10" stroke="#000" stroke-width="0.25">10<tspan font-size="6.8" dy="-2.4">3</tspan></text>
<text x="154.5" y="380.5" font-size="10" stroke="#000" stroke-width="0.25">10<tspan font-size="6.8" dy="-2.4">4</tspan></text>
<text transform="translate(9.2,235.7)" font-size="23" text-anchor="middle" fill="#000" font-weight="bold">C</text>
<text transform="translate(10.1,302.5) rotate(-90) scale(0.93,1)" font-size="12" text-anchor="middle" fill="#e0202c" font-weight="normal" stroke="#e0202c" stroke-width="0.25">CD16PE:Cy5</text>
<text transform="translate(93.5,395.4)" font-size="12" text-anchor="middle" fill="#3020c8" font-weight="normal" stroke="#3020c8" stroke-width="0.2">CD24 PE</text>
<rect x="210.5" y="227.2" width="125.10000000000002" height="137.8" fill="none" stroke="#000" stroke-width="1.4"/>
<line x1="277.9" y1="225.4" x2="277.9" y2="365.0" stroke="#222" stroke-width="1.1"/>
<line x1="210.5" y1="281.8" x2="335.6" y2="281.8" stroke="#222" stroke-width="1.1"/>
<line x1="204.5" y1="365.0" x2="210.5" y2="365.0" stroke="#000" stroke-width="1.1"/>
<line x1="208.3" y1="354.6" x2="210.5" y2="354.6" stroke="#000" stroke-width="1.1"/>
<line x1="208.3" y1="344.3" x2="210.5" y2="344.3" stroke="#000" stroke-width="1.1"/>
<line x1="208.3" y1="338.2" x2="210.5" y2="338.2" stroke="#000" stroke-width="1.1"/>
<line x1="208.3" y1="333.9" x2="210.5" y2="333.9" stroke="#000" stroke-width="1.1"/>
<line x1="204.5" y1="330.6" x2="210.5" y2="330.6" stroke="#000" stroke-width="1.1"/>
<line x1="208.3" y1="320.2" x2="210.5" y2="320.2" stroke="#000" stroke-width="1.1"/>
<line x1="208.3" y1="309.8" x2="210.5" y2="309.8" stroke="#000" stroke-width="1.1"/>
<line x1="208.3" y1="303.7" x2="210.5" y2="303.7" stroke="#000" stroke-width="1.1"/>
<line x1="208.3" y1="299.4" x2="210.5" y2="299.4" stroke="#000" stroke-width="1.1"/>
<line x1="204.5" y1="296.1" x2="210.5" y2="296.1" stroke="#000" stroke-width="1.1"/>
<line x1="208.3" y1="285.7" x2="210.5" y2="285.7" stroke="#000" stroke-width="1.1"/>
<line x1="208.3" y1="275.4" x2="210.5" y2="275.4" stroke="#000" stroke-width="1.1"/>
<line x1="208.3" y1="269.3" x2="210.5" y2="269.3" stroke="#000" stroke-width="1.1"/>
<line x1="208.3" y1="265.0" x2="210.5" y2="265.0" stroke="#000" stroke-width="1.1"/>
<line x1="204.5" y1="261.6" x2="210.5" y2="261.6" stroke="#000" stroke-width="1.1"/>
<line x1="208.3" y1="251.3" x2="210.5" y2="251.3" stroke="#000" stroke-width="1.1"/>
<line x1="208.3" y1="240.9" x2="210.5" y2="240.9" stroke="#000" stroke-width="1.1"/>
<line x1="208.3" y1="234.8" x2="210.5" y2="234.8" stroke="#000" stroke-width="1.1"/>
<line x1="208.3" y1="230.5" x2="210.5" y2="230.5" stroke="#000" stroke-width="1.1"/>
<line x1="204.5" y1="227.2" x2="210.5" y2="227.2" stroke="#000" stroke-width="1.1"/>
<line x1="210.5" y1="365.0" x2="210.5" y2="371.0" stroke="#000" stroke-width="1.1"/>
<line x1="219.9" y1="365.0" x2="219.9" y2="367.0" stroke="#000" stroke-width="1.1"/>
<line x1="229.3" y1="365.0" x2="229.3" y2="367.0" stroke="#000" stroke-width="1.1"/>
<line x1="234.8" y1="365.0" x2="234.8" y2="367.0" stroke="#000" stroke-width="1.1"/>
<line x1="238.7" y1="365.0" x2="238.7" y2="367.0" stroke="#000" stroke-width="1.1"/>
<line x1="241.8" y1="365.0" x2="241.8" y2="371.0" stroke="#000" stroke-width="1.1"/>
<line x1="251.2" y1="365.0" x2="251.2" y2="367.0" stroke="#000" stroke-width="1.1"/>
<line x1="260.6" y1="365.0" x2="260.6" y2="367.0" stroke="#000" stroke-width="1.1"/>
<line x1="266.1" y1="365.0" x2="266.1" y2="367.0" stroke="#000" stroke-width="1.1"/>
<line x1="270.0" y1="365.0" x2="270.0" y2="367.0" stroke="#000" stroke-width="1.1"/>
<line x1="273.1" y1="365.0" x2="273.1" y2="371.0" stroke="#000" stroke-width="1.1"/>
<line x1="282.5" y1="365.0" x2="282.5" y2="367.0" stroke="#000" stroke-width="1.1"/>
<line x1="291.9" y1="365.0" x2="291.9" y2="367.0" stroke="#000" stroke-width="1.1"/>
<line x1="297.4" y1="365.0" x2="297.4" y2="367.0" stroke="#000" stroke-width="1.1"/>
<line x1="301.3" y1="365.0" x2="301.3" y2="367.0" stroke="#000" stroke-width="1.1"/>
<line x1="304.3" y1="365.0" x2="304.3" y2="371.0" stroke="#000" stroke-width="1.1"/>
<line x1="313.7" y1="365.0" x2="313.7" y2="367.0" stroke="#000" stroke-width="1.1"/>
<line x1="323.2" y1="365.0" x2="323.2" y2="367.0" stroke="#000" stroke-width="1.1"/>
<line x1="328.7" y1="365.0" x2="328.7" y2="367.0" stroke="#000" stroke-width="1.1"/>
<line x1="332.6" y1="365.0" x2="332.6" y2="367.0" stroke="#000" stroke-width="1.1"/>
<line x1="335.6" y1="365.0" x2="335.6" y2="371.0" stroke="#000" stroke-width="1.1"/>
<text transform="translate(202.9,372.2) rotate(-90)" font-size="10" stroke="#000" stroke-width="0.25">10<tspan font-size="6.8" dy="-2.6">0</tspan></text>
<text transform="translate(202.9,337.8) rotate(-90)" font-size="10" stroke="#000" stroke-width="0.25">10<tspan font-size="6.8" dy="-2.6">1</tspan></text>
<text transform="translate(202.9,303.3) rotate(-90)" font-size="10" stroke="#000" stroke-width="0.25">10<tspan font-size="6.8" dy="-2.6">2</tspan></text>
<text transform="translate(202.9,268.8) rotate(-90)" font-size="10" stroke="#000" stroke-width="0.25">10<tspan font-size="6.8" dy="-2.6">3</tspan></text>
<text transform="translate(202.9,234.4) rotate(-90)" font-size="10" stroke="#000" stroke-width="0.25">10<tspan font-size="6.8" dy="-2.6">4</tspan></text>
<text x="203.7" y="381.0" font-size="10" stroke="#000" stroke-width="0.25">10<tspan font-size="6.8" dy="-2.4">0</tspan></text>
<text x="235.0" y="381.0" font-size="10" stroke="#000" stroke-width="0.25">10<tspan font-size="6.8" dy="-2.4">1</tspan></text>
<text x="266.2" y="381.0" font-size="10" stroke="#000" stroke-width="0.25">10<tspan font-size="6.8" dy="-2.4">2</tspan></text>
<text x="297.5" y="381.0" font-size="10" stroke="#000" stroke-width="0.25">10<tspan font-size="6.8" dy="-2.4">3</tspan></text>
<text x="328.8" y="381.0" font-size="10" stroke="#000" stroke-width="0.25">10<tspan font-size="6.8" dy="-2.4">4</tspan></text>
<text transform="translate(180.0,236.0)" font-size="23" text-anchor="middle" fill="#000" font-weight="bold">D</text>
<text transform="translate(187.6,303.2) rotate(-90) scale(0.93,1)" font-size="12" text-anchor="middle" fill="#e0202c" font-weight="normal" stroke="#e0202c" stroke-width="0.25">CD16PE:Cy5</text>
<text transform="translate(271.4,401.8)" font-size="12" text-anchor="middle" fill="#3020c8" font-weight="normal" stroke="#3020c8" stroke-width="0.2">CD24 PE</text>
<rect x="385" y="229" width="125.60000000000002" height="137.2" fill="none" stroke="#000" stroke-width="1.4"/>
<line x1="451.2" y1="225.8" x2="451.2" y2="366.2" stroke="#222" stroke-width="1.1"/>
<line x1="385.0" y1="283.6" x2="510.6" y2="283.6" stroke="#222" stroke-width="1.1"/>
<line x1="379.0" y1="366.2" x2="385.0" y2="366.2" stroke="#000" stroke-width="1.1"/>
<line x1="382.8" y1="355.9" x2="385.0" y2="355.9" stroke="#000" stroke-width="1.1"/>
<line x1="382.8" y1="345.5" x2="385.0" y2="345.5" stroke="#000" stroke-width="1.1"/>
<line x1="382.8" y1="339.5" x2="385.0" y2="339.5" stroke="#000" stroke-width="1.1"/>
<line x1="382.8" y1="335.2" x2="385.0" y2="335.2" stroke="#000" stroke-width="1.1"/>
<line x1="379.0" y1="331.9" x2="385.0" y2="331.9" stroke="#000" stroke-width="1.1"/>
<line x1="382.8" y1="321.6" x2="385.0" y2="321.6" stroke="#000" stroke-width="1.1"/>
<line x1="382.8" y1="311.2" x2="385.0" y2="311.2" stroke="#000" stroke-width="1.1"/>
<line x1="382.8" y1="305.2" x2="385.0" y2="305.2" stroke="#000" stroke-width="1.1"/>
<line x1="382.8" y1="300.9" x2="385.0" y2="300.9" stroke="#000" stroke-width="1.1"/>
<line x1="379.0" y1="297.6" x2="385.0" y2="297.6" stroke="#000" stroke-width="1.1"/>
<line x1="382.8" y1="287.3" x2="385.0" y2="287.3" stroke="#000" stroke-width="1.1"/>
<line x1="382.8" y1="276.9" x2="385.0" y2="276.9" stroke="#000" stroke-width="1.1"/>
<line x1="382.8" y1="270.9" x2="385.0" y2="270.9" stroke="#000" stroke-width="1.1"/>
<line x1="382.8" y1="266.6" x2="385.0" y2="266.6" stroke="#000" stroke-width="1.1"/>
<line x1="379.0" y1="263.3" x2="385.0" y2="263.3" stroke="#000" stroke-width="1.1"/>
<line x1="382.8" y1="253.0" x2="385.0" y2="253.0" stroke="#000" stroke-width="1.1"/>
<line x1="382.8" y1="242.6" x2="385.0" y2="242.6" stroke="#000" stroke-width="1.1"/>
<line x1="382.8" y1="236.6" x2="385.0" y2="236.6" stroke="#000" stroke-width="1.1"/>
<line x1="382.8" y1="232.3" x2="385.0" y2="232.3" stroke="#000" stroke-width="1.1"/>
<line x1="379.0" y1="229.0" x2="385.0" y2="229.0" stroke="#000" stroke-width="1.1"/>
<line x1="385.0" y1="366.2" x2="385.0" y2="372.2" stroke="#000" stroke-width="1.1"/>
<line x1="394.5" y1="366.2" x2="394.5" y2="368.2" stroke="#000" stroke-width="1.1"/>
<line x1="403.9" y1="366.2" x2="403.9" y2="368.2" stroke="#000" stroke-width="1.1"/>
<line x1="409.4" y1="366.2" x2="409.4" y2="368.2" stroke="#000" stroke-width="1.1"/>
<line x1="413.4" y1="366.2" x2="413.4" y2="368.2" stroke="#000" stroke-width="1.1"/>
<line x1="416.4" y1="366.2" x2="416.4" y2="372.2" stroke="#000" stroke-width="1.1"/>
<line x1="425.9" y1="366.2" x2="425.9" y2="368.2" stroke="#000" stroke-width="1.1"/>
<line x1="435.3" y1="366.2" x2="435.3" y2="368.2" stroke="#000" stroke-width="1.1"/>
<line x1="440.8" y1="366.2" x2="440.8" y2="368.2" stroke="#000" stroke-width="1.1"/>
<line x1="444.8" y1="366.2" x2="444.8" y2="368.2" stroke="#000" stroke-width="1.1"/>
<line x1="447.8" y1="366.2" x2="447.8" y2="372.2" stroke="#000" stroke-width="1.1"/>
<line x1="457.3" y1="366.2" x2="457.3" y2="368.2" stroke="#000" stroke-width="1.1"/>
<line x1="466.7" y1="366.2" x2="466.7" y2="368.2" stroke="#000" stroke-width="1.1"/>
<line x1="472.2" y1="366.2" x2="472.2" y2="368.2" stroke="#000" stroke-width="1.1"/>
<line x1="476.2" y1="366.2" x2="476.2" y2="368.2" stroke="#000" stroke-width="1.1"/>
<line x1="479.2" y1="366.2" x2="479.2" y2="372.2" stroke="#000" stroke-width="1.1"/>
<line x1="488.7" y1="366.2" x2="488.7" y2="368.2" stroke="#000" stroke-width="1.1"/>
<line x1="498.1" y1="366.2" x2="498.1" y2="368.2" stroke="#000" stroke-width="1.1"/>
<line x1="503.6" y1="366.2" x2="503.6" y2="368.2" stroke="#000" stroke-width="1.1"/>
<line x1="507.6" y1="366.2" x2="507.6" y2="368.2" stroke="#000" stroke-width="1.1"/>
<line x1="510.6" y1="366.2" x2="510.6" y2="372.2" stroke="#000" stroke-width="1.1"/>
<text transform="translate(377.7,373.4) rotate(-90)" font-size="10" stroke="#000" stroke-width="0.25">10<tspan font-size="6.8" dy="-2.6">0</tspan></text>
<text transform="translate(377.7,339.1) rotate(-90)" font-size="10" stroke="#000" stroke-width="0.25">10<tspan font-size="6.8" dy="-2.6">1</tspan></text>
<text transform="translate(377.7,304.8) rotate(-90)" font-size="10" stroke="#000" stroke-width="0.25">10<tspan font-size="6.8" dy="-2.6">2</tspan></text>
<text transform="translate(377.7,270.5) rotate(-90)" font-size="10" stroke="#000" stroke-width="0.25">10<tspan font-size="6.8" dy="-2.6">3</tspan></text>
<text transform="translate(377.7,236.2) rotate(-90)" font-size="10" stroke="#000" stroke-width="0.25">10<tspan font-size="6.8" dy="-2.6">4</tspan></text>
<text x="378.2" y="382.2" font-size="10" stroke="#000" stroke-width="0.25">10<tspan font-size="6.8" dy="-2.4">0</tspan></text>
<text x="409.6" y="382.2" font-size="10" stroke="#000" stroke-width="0.25">10<tspan font-size="6.8" dy="-2.4">1</tspan></text>
<text x="441.0" y="382.2" font-size="10" stroke="#000" stroke-width="0.25">10<tspan font-size="6.8" dy="-2.4">2</tspan></text>
<text x="472.4" y="382.2" font-size="10" stroke="#000" stroke-width="0.25">10<tspan font-size="6.8" dy="-2.4">3</tspan></text>
<text x="503.8" y="382.2" font-size="10" stroke="#000" stroke-width="0.25">10<tspan font-size="6.8" dy="-2.4">4</tspan></text>
<text transform="translate(356.7,238.0)" font-size="23" text-anchor="middle" fill="#000" font-weight="bold">E</text>
<text transform="translate(361.4,301.3) rotate(-90) scale(0.93,1)" font-size="12" text-anchor="middle" fill="#e0202c" font-weight="normal" stroke="#e0202c" stroke-width="0.25">CD16PE:Cy5</text>
<text transform="translate(450.0,401.8)" font-size="12" text-anchor="middle" fill="#3020c8" font-weight="normal" stroke="#3020c8" stroke-width="0.2">CD24 PE</text>
</svg></body></html>
